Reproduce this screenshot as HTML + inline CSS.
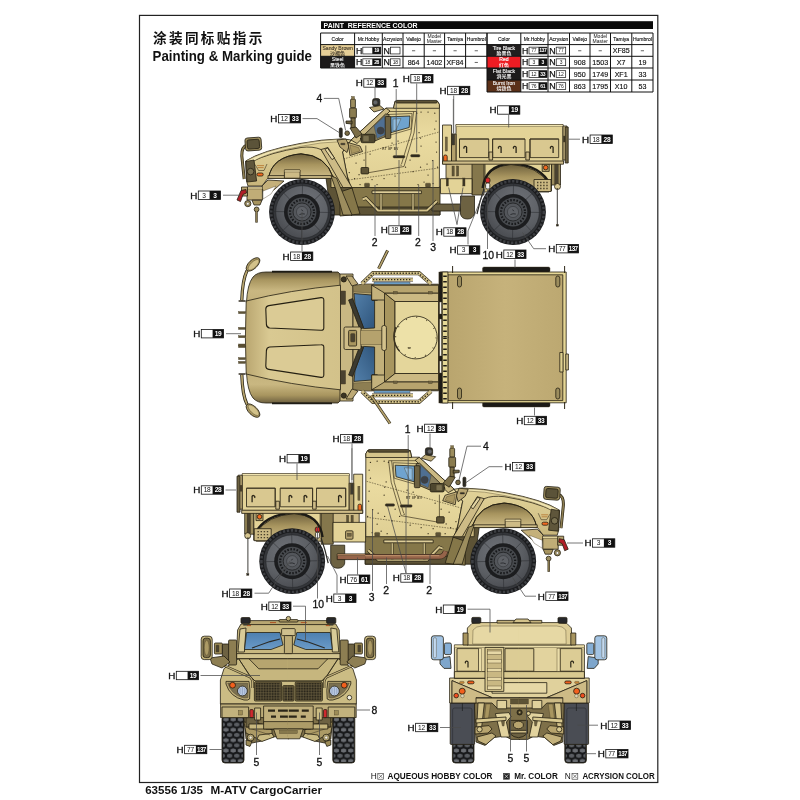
<!DOCTYPE html>
<html lang="zh">
<head>
<meta charset="utf-8">
<title>M-ATV CargoCarrier - Painting &amp; Marking guide</title>
<style>
html,body{margin:0;padding:0;background:#fff;}
body{width:800px;height:800px;overflow:hidden;font-family:"Liberation Sans", "Noto Sans CJK SC", sans-serif;}
svg{display:block;will-change:transform;font-family:"Liberation Sans", "Noto Sans CJK SC", sans-serif;}
.lh{font-size:9.8px;fill:#111;stroke:#111;stroke-width:0.35;}
.ln{font-size:6.6px;fill:#111;letter-spacing:-0.2px;}
.lb{font-size:6.6px;fill:#fff;font-weight:bold;letter-spacing:-0.2px;}
.lb3{font-size:6.3px;fill:#fff;font-weight:bold;letter-spacing:-0.6px;}
.nm{font-size:10.4px;fill:#111;stroke:#111;stroke-width:0.3;}
.ld{fill:none;stroke:#4a4a4a;stroke-width:0.75;}
.th{font-size:4.6px;fill:#222;}
.tv{font-size:6.6px;fill:#222;}
.tc{font-size:4.6px;fill:#f4f4f4;}
.o{stroke:#241f12;stroke-width:0.8;stroke-linejoin:round;}
.t{stroke:#4a3f26;stroke-width:0.4;}
</style>
</head>
<body>
<svg width="800" height="800" viewBox="0 0 800 800">
<rect width="800" height="800" fill="#fff"/>
<rect x="139.5" y="15.4" width="518.3" height="767.1" fill="none" stroke="#222" stroke-width="1.2"/>
<text x="153" y="43" font-size="13.6" fill="#111" letter-spacing="2.35" font-weight="bold">涂装同标贴指示</text>
<text x="152.6" y="60.8" font-size="14.5" fill="#111" font-weight="bold" textLength="159.4" lengthAdjust="spacingAndGlyphs">Painting &amp; Marking guide</text>
<rect x="321" y="21.2" width="332" height="7.8" fill="#0a0a0a"/><text x="323.6" y="27.6" font-size="7.2" font-weight="bold" fill="#fff" xml:space="preserve" textLength="94" lengthAdjust="spacingAndGlyphs">PAINT  REFERENCE COLOR</text><rect x="320.6" y="44.6" width="34.0" height="11.699999999999996" fill="#e6cf97"/><text x="337.60" y="49.60" font-size="5.1" fill="#4a4030" stroke="#4a4030" stroke-width="0.15" text-anchor="middle">Sandy Brown</text><text x="337.60" y="55.00" font-size="5" fill="#4a4030" font-weight="bold" text-anchor="middle">沙褐色</text><text x="355.90" y="53.55" font-size="8.8" fill="#111" stroke="#111" stroke-width="0.25">H</text><rect x="362.80" y="47.15" width="18.0" height="6.8" fill="#fff" stroke="#111" stroke-width="0.7"/><rect x="372.30" y="47.15" width="8.5" height="6.8" fill="#111"/><text x="376.55" y="52.45" font-size="5" fill="#fff" font-weight="bold" text-anchor="middle" letter-spacing="-0.4">19</text><text x="383.60" y="53.55" font-size="8.8" fill="#111" stroke="#111" stroke-width="0.25">N</text><rect x="390.50" y="47.15" width="9.5" height="6.8" fill="#fff" stroke="#111" stroke-width="0.7"/><path d="M412.00 50.75 h3.2" stroke="#222" stroke-width="0.7"/><path d="M432.80 50.75 h3.2" stroke="#222" stroke-width="0.7"/><path d="M453.50 50.75 h3.2" stroke="#222" stroke-width="0.7"/><path d="M474.70 50.75 h3.2" stroke="#222" stroke-width="0.7"/><rect x="320.6" y="56.3" width="34.0" height="11.700000000000003" fill="#1c1a1a"/><text x="337.60" y="61.30" font-size="5.1" fill="#eee" stroke="#eee" stroke-width="0.15" text-anchor="middle">Steel</text><text x="337.60" y="66.70" font-size="5" fill="#eee" font-weight="bold" text-anchor="middle">黑铁色</text><text x="355.90" y="65.25" font-size="8.8" fill="#111" stroke="#111" stroke-width="0.25">H</text><rect x="362.80" y="58.85" width="18.0" height="6.8" fill="#fff" stroke="#111" stroke-width="0.7"/><rect x="372.30" y="58.85" width="8.5" height="6.8" fill="#111"/><text x="367.55" y="64.15" font-size="5" fill="#222" text-anchor="middle" letter-spacing="-0.2">18</text><text x="376.55" y="64.15" font-size="5" fill="#fff" font-weight="bold" text-anchor="middle" letter-spacing="-0.4">28</text><text x="383.60" y="65.25" font-size="8.8" fill="#111" stroke="#111" stroke-width="0.25">N</text><rect x="390.50" y="58.85" width="9.5" height="6.8" fill="#fff" stroke="#111" stroke-width="0.7"/><text x="395.25" y="64.15" font-size="5" fill="#222" text-anchor="middle" letter-spacing="-0.2">18</text><text x="413.60" y="64.75" font-size="7.1" fill="#111" stroke="#111" stroke-width="0.15" text-anchor="middle">864</text><text x="434.40" y="64.75" font-size="7.1" fill="#111" stroke="#111" stroke-width="0.15" text-anchor="middle">1402</text><text x="455.10" y="64.75" font-size="7.1" fill="#111" stroke="#111" stroke-width="0.15" text-anchor="middle">XF84</text><path d="M474.70 62.45 h3.2" stroke="#222" stroke-width="0.7"/><path d="M320.6 33.0 H487 M320.6 44.6 H487 M320.6 56.3 H487 M320.6 68 H487 M320.6 33.0 V68 M354.6 33.0 V68 M382.3 33.0 V68 M403 33.0 V68 M424.2 33.0 V68 M444.6 33.0 V68 M465.6 33.0 V68 M487 33.0 V68 " stroke="#111" stroke-width="1" fill="none"/><text x="337.60" y="40.70" font-size="5" fill="#111" stroke="#111" stroke-width="0.12" text-anchor="middle">Color</text><text x="368.45" y="40.70" font-size="5" fill="#111" stroke="#111" stroke-width="0.12" text-anchor="middle">Mr.Hobby</text><text x="392.65" y="40.70" font-size="5" fill="#111" stroke="#111" stroke-width="0.12" text-anchor="middle">Acrysion</text><text x="413.60" y="40.70" font-size="5" fill="#111" stroke="#111" stroke-width="0.12" text-anchor="middle">Vallejo</text><text x="434.40" y="37.90" font-size="5" fill="#111" text-anchor="middle">Model</text><text x="434.40" y="42.80" font-size="5" fill="#111" text-anchor="middle">Master</text><text x="455.10" y="40.70" font-size="5" fill="#111" stroke="#111" stroke-width="0.12" text-anchor="middle">Tamiya</text><text x="476.30" y="40.70" font-size="5" fill="#111" stroke="#111" stroke-width="0.12" text-anchor="middle">Humbrol</text><rect x="487" y="44.6" width="33.799999999999955" height="11.699999999999996" fill="#221f1f"/><text x="503.90" y="49.60" font-size="5.1" fill="#eee" stroke="#eee" stroke-width="0.15" text-anchor="middle">Tire Black</text><text x="503.90" y="55.00" font-size="5" fill="#eee" font-weight="bold" text-anchor="middle">胎黑色</text><text x="522.10" y="53.55" font-size="8.8" fill="#111" stroke="#111" stroke-width="0.25">H</text><rect x="529.00" y="47.15" width="18.0" height="6.8" fill="#fff" stroke="#111" stroke-width="0.7"/><rect x="538.50" y="47.15" width="8.5" height="6.8" fill="#111"/><text x="533.75" y="52.45" font-size="5" fill="#222" text-anchor="middle" letter-spacing="-0.2">77</text><text x="542.75" y="52.45" font-size="5" fill="#fff" font-weight="bold" text-anchor="middle" letter-spacing="-0.4">137</text><text x="549.30" y="53.55" font-size="8.8" fill="#111" stroke="#111" stroke-width="0.25">N</text><rect x="556.20" y="47.15" width="9.5" height="6.8" fill="#fff" stroke="#111" stroke-width="0.7"/><text x="560.95" y="52.45" font-size="5" fill="#222" text-anchor="middle" letter-spacing="-0.2">77</text><path d="M578.15 50.75 h3.2" stroke="#222" stroke-width="0.7"/><path d="M598.65 50.75 h3.2" stroke="#222" stroke-width="0.7"/><text x="621.15" y="53.05" font-size="7.1" fill="#111" stroke="#111" stroke-width="0.15" text-anchor="middle">XF85</text><path d="M640.80 50.75 h3.2" stroke="#222" stroke-width="0.7"/><rect x="487" y="56.3" width="33.799999999999955" height="11.700000000000003" fill="#ee1c23"/><text x="503.90" y="61.30" font-size="5.1" fill="#fff" stroke="#fff" stroke-width="0.15" text-anchor="middle">Red</text><text x="503.90" y="66.70" font-size="5" fill="#fff" font-weight="bold" text-anchor="middle">红色</text><text x="522.10" y="65.25" font-size="8.8" fill="#111" stroke="#111" stroke-width="0.25">H</text><rect x="529.00" y="58.85" width="18.0" height="6.8" fill="#fff" stroke="#111" stroke-width="0.7"/><rect x="538.50" y="58.85" width="8.5" height="6.8" fill="#111"/><text x="533.75" y="64.15" font-size="5" fill="#222" text-anchor="middle" letter-spacing="-0.2">3</text><text x="542.75" y="64.15" font-size="5" fill="#fff" font-weight="bold" text-anchor="middle" letter-spacing="-0.4">3</text><text x="549.30" y="65.25" font-size="8.8" fill="#111" stroke="#111" stroke-width="0.25">N</text><rect x="556.20" y="58.85" width="9.5" height="6.8" fill="#fff" stroke="#111" stroke-width="0.7"/><text x="560.95" y="64.15" font-size="5" fill="#222" text-anchor="middle" letter-spacing="-0.2">3</text><text x="579.75" y="64.75" font-size="7.1" fill="#111" stroke="#111" stroke-width="0.15" text-anchor="middle">908</text><text x="600.25" y="64.75" font-size="7.1" fill="#111" stroke="#111" stroke-width="0.15" text-anchor="middle">1503</text><text x="621.15" y="64.75" font-size="7.1" fill="#111" stroke="#111" stroke-width="0.15" text-anchor="middle">X7</text><text x="642.40" y="64.75" font-size="7.1" fill="#111" stroke="#111" stroke-width="0.15" text-anchor="middle">19</text><rect x="487" y="68" width="33.799999999999955" height="12" fill="#1c1a1a"/><text x="503.90" y="73.00" font-size="5.1" fill="#eee" stroke="#eee" stroke-width="0.15" text-anchor="middle">Flat Black</text><text x="503.90" y="78.40" font-size="5" fill="#eee" font-weight="bold" text-anchor="middle">消光黑</text><text x="522.10" y="77.10" font-size="8.8" fill="#111" stroke="#111" stroke-width="0.25">H</text><rect x="529.00" y="70.70" width="18.0" height="6.8" fill="#fff" stroke="#111" stroke-width="0.7"/><rect x="538.50" y="70.70" width="8.5" height="6.8" fill="#111"/><text x="533.75" y="76.00" font-size="5" fill="#222" text-anchor="middle" letter-spacing="-0.2">12</text><text x="542.75" y="76.00" font-size="5" fill="#fff" font-weight="bold" text-anchor="middle" letter-spacing="-0.4">33</text><text x="549.30" y="77.10" font-size="8.8" fill="#111" stroke="#111" stroke-width="0.25">N</text><rect x="556.20" y="70.70" width="9.5" height="6.8" fill="#fff" stroke="#111" stroke-width="0.7"/><text x="560.95" y="76.00" font-size="5" fill="#222" text-anchor="middle" letter-spacing="-0.2">12</text><text x="579.75" y="76.60" font-size="7.1" fill="#111" stroke="#111" stroke-width="0.15" text-anchor="middle">950</text><text x="600.25" y="76.60" font-size="7.1" fill="#111" stroke="#111" stroke-width="0.15" text-anchor="middle">1749</text><text x="621.15" y="76.60" font-size="7.1" fill="#111" stroke="#111" stroke-width="0.15" text-anchor="middle">XF1</text><text x="642.40" y="76.60" font-size="7.1" fill="#111" stroke="#111" stroke-width="0.15" text-anchor="middle">33</text><rect x="487" y="80" width="33.799999999999955" height="12" fill="#5b3018"/><text x="503.90" y="85.00" font-size="5.1" fill="#eee" stroke="#eee" stroke-width="0.15" text-anchor="middle">Burnt Iron</text><text x="503.90" y="90.40" font-size="5" fill="#eee" font-weight="bold" text-anchor="middle">烧铁色</text><text x="522.10" y="89.10" font-size="8.8" fill="#111" stroke="#111" stroke-width="0.25">H</text><rect x="529.00" y="82.70" width="18.0" height="6.8" fill="#fff" stroke="#111" stroke-width="0.7"/><rect x="538.50" y="82.70" width="8.5" height="6.8" fill="#111"/><text x="533.75" y="88.00" font-size="5" fill="#222" text-anchor="middle" letter-spacing="-0.2">76</text><text x="542.75" y="88.00" font-size="5" fill="#fff" font-weight="bold" text-anchor="middle" letter-spacing="-0.4">61</text><text x="549.30" y="89.10" font-size="8.8" fill="#111" stroke="#111" stroke-width="0.25">N</text><rect x="556.20" y="82.70" width="9.5" height="6.8" fill="#fff" stroke="#111" stroke-width="0.7"/><text x="560.95" y="88.00" font-size="5" fill="#222" text-anchor="middle" letter-spacing="-0.2">76</text><text x="579.75" y="88.60" font-size="7.1" fill="#111" stroke="#111" stroke-width="0.15" text-anchor="middle">863</text><text x="600.25" y="88.60" font-size="7.1" fill="#111" stroke="#111" stroke-width="0.15" text-anchor="middle">1795</text><text x="621.15" y="88.60" font-size="7.1" fill="#111" stroke="#111" stroke-width="0.15" text-anchor="middle">X10</text><text x="642.40" y="88.60" font-size="7.1" fill="#111" stroke="#111" stroke-width="0.15" text-anchor="middle">53</text><path d="M487 33.0 H653 M487 44.6 H653 M487 56.3 H653 M487 68 H653 M487 80 H653 M487 92 H653 M487 33.0 V92 M520.8 33.0 V92 M548 33.0 V92 M569.5 33.0 V92 M590 33.0 V92 M610.5 33.0 V92 M631.8 33.0 V92 M653 33.0 V92 " stroke="#111" stroke-width="1" fill="none"/><text x="503.90" y="40.70" font-size="5" fill="#111" stroke="#111" stroke-width="0.12" text-anchor="middle">Color</text><text x="534.40" y="40.70" font-size="5" fill="#111" stroke="#111" stroke-width="0.12" text-anchor="middle">Mr.Hobby</text><text x="558.75" y="40.70" font-size="5" fill="#111" stroke="#111" stroke-width="0.12" text-anchor="middle">Acrysion</text><text x="579.75" y="40.70" font-size="5" fill="#111" stroke="#111" stroke-width="0.12" text-anchor="middle">Vallejo</text><text x="600.25" y="37.90" font-size="5" fill="#111" text-anchor="middle">Model</text><text x="600.25" y="42.80" font-size="5" fill="#111" text-anchor="middle">Master</text><text x="621.15" y="40.70" font-size="5" fill="#111" stroke="#111" stroke-width="0.12" text-anchor="middle">Tamiya</text><text x="642.40" y="40.70" font-size="5" fill="#111" stroke="#111" stroke-width="0.12" text-anchor="middle">Humbrol</text>
<g id="side1">
<defs><radialGradient id="tyrea" cx="0.62" cy="0.3" r="0.8"><stop offset="0" stop-color="#6d7076"/><stop offset="0.6" stop-color="#5b5e63"/><stop offset="1" stop-color="#46484d"/></radialGradient><linearGradient id="wella" x1="0" y1="0" x2="0" y2="1"><stop offset="0" stop-color="#6d5f3c"/><stop offset="0.45" stop-color="#a8955f"/><stop offset="1" stop-color="#cfbd88"/></linearGradient><linearGradient id="hooda" x1="0" y1="0" x2="0" y2="1"><stop offset="0" stop-color="#e2d399"/><stop offset="0.5" stop-color="#d8c88e"/><stop offset="1" stop-color="#c6b37a"/></linearGradient><linearGradient id="caba" x1="0" y1="0" x2="0" y2="1"><stop offset="0" stop-color="#dccb90"/><stop offset="0.4" stop-color="#eadba0"/><stop offset="1" stop-color="#dfcf94"/></linearGradient></defs>
<rect x="351" y="187" width="89" height="28" rx="0" fill="#857749" class="o" /><rect x="351" y="207" width="89" height="8" rx="0" fill="#5d5336" class="o" /><rect x="432" y="204" width="30" height="7" rx="0" fill="#6a5f40" class="o" /><path d="M460.5 196 h14 v18 q-2 5 -7 5 q-6 0 -7 -5 Z" fill="#6d6242" class="o" /><path d="M326 178 L352 178 L352 215 L331 215 Z" fill="#5d5336" class="o" /><path d="M340 192 L352 188 L360 214 L340 216 Z" fill="#857749" class="o" /><rect x="446" y="161" width="40" height="19" rx="0" fill="#cdbb86" class="o" /><rect x="452" y="166" width="2.2" height="10" rx="0" fill="#5d5336" class="t" /><rect x="456.5" y="166" width="2.2" height="10" rx="0" fill="#5d5336" class="t" /><rect x="472" y="161" width="12" height="34" rx="0" fill="#85774c" class="o" /><rect x="440.5" y="178.7" width="31.5" height="15" rx="0" fill="#e3d397" class="o" /><rect x="446.2" y="178" width="2.2" height="8" rx="0" fill="#3b3524" class="t" /><rect x="462.8" y="178" width="2.2" height="8" rx="0" fill="#3b3524" class="t" /><path d="M485 161 L551.5 161 L551.5 191 L534 191 L534 180 L485 180 Z" fill="#e3d397" class="o" /><path d="M484 184 Q488 166 511 164.5 Q538 166 549 184 L549 192 L484 192 Z" fill="url(#wella)" class="o" /><path d="M482.6 188 Q485.6 165.2 511 163.4 Q541.5 165 551 186" fill="none" stroke="#1c1a15" stroke-width="2.3" /><rect x="534" y="179.5" width="17" height="12" rx="0" fill="#cbb983" class="o" /><path d="M537 182.5 h12 M537 185.5 h12 M537 188.5 h12" stroke="#4a412b" stroke-width="1.3" stroke-dasharray="1.4 1.7" fill="none"/><rect x="551.5" y="161" width="9" height="24" rx="0" fill="#9c8d5e" class="o" /><rect x="554.6" y="160" width="3.6" height="24" rx="0" fill="#4a4230" class="t" /><circle cx="557.5" cy="186.5" r="3" fill="#d7c690" class="o"/><path d="M557.3 188 V226" fill="none" stroke="#2b2a26" stroke-width="0.9" /><rect x="556.3" y="224.5" width="2.2" height="1.6" rx="0" fill="#222" class="t" /><rect x="542.2" y="164" width="7" height="7.4" rx="0" fill="#bba972" class="o" /><circle cx="545.7" cy="167.6" r="2.3" fill="#f26a21" class="o"/><rect x="456" y="124.6" width="107" height="37" rx="0" fill="#e3d397" class="o" /><rect x="456" y="124.6" width="107" height="2" rx="0" fill="#f0e4b0" class="t" /><rect x="442.5" y="125" width="9" height="39" rx="0" fill="#e3d397" class="o" /><rect x="451.5" y="134" width="4.5" height="28" rx="0" fill="#b3a06b" class="o" /><rect x="445.3" y="137" width="2" height="14" rx="0" fill="#6f6342" class="t" /><rect x="443.6" y="155" width="3.6" height="7" rx="1.5" fill="#f26a21" class="o" /><rect x="442.5" y="161" width="121" height="3.2" rx="0" fill="#cfbd88" class="o" /><rect x="459.5" y="139" width="29.2" height="18.6" rx="0" fill="#d9c890" class="o" /><path d="M459.5 157.6 V139 H488.7" fill="none" stroke="#3a3220" stroke-width="0.9" /><rect x="492.6" y="139" width="32.4" height="18.6" rx="0" fill="#d9c890" class="o" /><path d="M492.6 157.6 V139 H525" fill="none" stroke="#3a3220" stroke-width="0.9" /><rect x="530" y="139" width="28.7" height="18.6" rx="0" fill="#d9c890" class="o" /><path d="M530 157.6 V139 H558.7" fill="none" stroke="#3a3220" stroke-width="0.9" /><path d="M464.2 148.6 a1.4 1.4 0 1 1 2.4 -0.4 v4.8" stroke="#2b2618" stroke-width="1.3" fill="none"/><path d="M498.7 148.6 a1.4 1.4 0 1 1 2.4 -0.4 v4.8" stroke="#2b2618" stroke-width="1.3" fill="none"/><path d="M513.7 148.6 a1.4 1.4 0 1 1 2.4 -0.4 v4.8" stroke="#2b2618" stroke-width="1.3" fill="none"/><path d="M550.7 148.6 a1.4 1.4 0 1 1 2.4 -0.4 v4.8" stroke="#2b2618" stroke-width="1.3" fill="none"/><rect x="489" y="152" width="3.6" height="8" rx="0" fill="#cdbb86" class="o" /><rect x="525.8" y="152" width="3.6" height="8" rx="0" fill="#cdbb86" class="o" /><rect x="563" y="126" width="4" height="34" rx="0" fill="#cbb983" class="o" /><rect x="565.2" y="127" width="3" height="36" rx="0" fill="#6d6242" class="o" /><rect x="563.3" y="136" width="1.8" height="6" rx="0" fill="#3b3524" class="t" /><path d="M453.3 99 V134" fill="none" stroke="#8b8b86" stroke-width="0.9" /><rect x="452" y="134" width="2.8" height="11" rx="0" fill="#3d3a30" class="t" /><rect x="485.4" y="177.8" width="4.6" height="5.2" rx="2" fill="#d8262c" class="o" /><rect x="485.6" y="183" width="4.2" height="6" rx="1.5" fill="#efefef" class="o" /><path d="M484 189 Q480 200 477 214" fill="none" stroke="#2b2a26" stroke-width="1.2" /><path d="M342.5 152 L351 140 L386 108 L393.5 108 L395 101.3 L437.5 101.3 L439.4 104.5 L439.4 187.5 L351 187.5 L347 175 Z" fill="url(#caba)" class="o" /><path d="M395 101.3 L437.5 101.3 L439.4 104.5 L439.4 108.3 L393.5 108.3 Z" fill="#d6c58b" class="o" /><rect x="396" y="100.4" width="41" height="2.6" rx="0.8" fill="#5d5336" class="o" /><path d="M387 111.5 H416.6 L414 133 L404 166.5 L365.8 173.2 V145.5 M413.6 111.5 L411 133 L401.5 164" fill="none" stroke="#3f3520" stroke-width="0.7" /><path d="M343.5 159 L439 132 M348.5 180 L439 168" fill="none" stroke="#4a3f26" stroke-width="0.6" stroke-dasharray="1.6 1.1"/><path d="M390 116.8 L410 116 L409.2 127.5 L391 132.6 Z" fill="#6fa3cf" class="o" /><path d="M393 119 L401 118.6 L396 130 L393 131 Z" fill="#8fbce0" class="t" /><path d="M388 114.5 L412 113.5 L411 129 L388.5 135.5 Z" fill="none" stroke="#4a4028" stroke-width="0.7" /><path d="M351 140 L386 108 L390 111 L357 143.5 Z" fill="#cbb983" class="o" /><path d="M360 139 L385.5 114 L389 114.5 L389 135 L376 140.5 Z" fill="#8d8360" class="o" /><path d="M374 126 L385 115.5 L387 134 L377 138.6 Z" fill="#4f6f92" class="t" /><circle cx="380.6" cy="130.6" r="3.6" fill="#3b4048" class="t"/><rect x="361" y="134.3" width="14" height="8.4" rx="1.5" fill="#4e472f" class="o" /><rect x="363" y="135.6" width="6" height="5.8" rx="1" fill="#7b7150" class="t" /><rect x="385.2" y="116.5" width="5.6" height="22" rx="1" fill="#6d6242" class="o" /><rect x="361" y="167.5" width="7.6" height="6.4" rx="0.8" fill="#5d5336" class="o" /><rect x="364.5" y="183.2" width="5" height="3.8" rx="0.8" fill="#5d5336" class="t" /><rect x="425.5" y="183.2" width="5" height="3.8" rx="0.8" fill="#5d5336" class="t" /><rect x="393" y="155.6" width="12" height="2.4" rx="1.2" fill="#2e2a1f" class="t" /><rect x="410.6" y="154.6" width="9.4" height="2.4" rx="1.2" fill="#2e2a1f" class="t" /><text x="382.3" y="149.6" font-size="3.1" font-weight="bold" fill="#4a4028" letter-spacing="0.3">RT 8P BV</text><path d="M416.7 113.2 h0.1 M434.7 113.2 h0.1 M434.7 129 h0.1 M419 132.7 h0.1 M420.5 138 h0.1 M432.5 160.5 h0.1 M420.5 167.2 h0.1 M437.5 167.2 h0.1 M413 171.7 h0.1 M405.5 167.2 h0.1 M401 165 h0.1 M337.2 160.5 h0.1 M338.8 166.5 h0.1 M341.7 156 h0.1 M349.2 172.5 h0.1 M354.5 178.5 h0.1 M359 174.7 h0.1 M345 170 h0.1 M342.5 176 h0.1 M347 182 h0.1 M436 121 h0.1 M436 142 h0.1 M436.5 152 h0.1 M428 175 h0.1 M424 182 h0.1 M395 176 h0.1 M384 178.5 h0.1 M372 179.5 h0.1 M410 160 h0.1 M398 141 h0.1 M392 143 h0.1 M364 160 h0.1 M356 163 h0.1 M370 154 h0.1 M421 112 h0.1 M428 112 h0.1 M421 146 h0.1 M427 164 h0.1 M433 183.5 h0.1 M360 184.5 h0.1 M377 184.5 h0.1 M418 184.5 h0.1" stroke="#3f3520" stroke-width="1.25" stroke-linecap="round" fill="none"/><rect x="372" y="190.8" width="49.4" height="2.8" rx="0" fill="#ddcd98" class="o" /><path d="M362.5 199.5 L366 198 L378 210.5 H427 L437 201" fill="none" stroke="#2e2818" stroke-width="3.4" /><path d="M362.5 199.5 L366 198 L378 210.5 H427 L437 201" fill="none" stroke="#d3c28a" stroke-width="2" /><path d="M381 194 V210 M413 194 V210" fill="none" stroke="#2e2818" stroke-width="2.6" /><path d="M381 194 V210 M413 194 V210" fill="none" stroke="#d3c28a" stroke-width="1.4" /><path d="M245.6 161 Q262 150.5 300 143.5 Q322 139.2 343 138.8 L351 140 L342.5 152 L349.5 187.5 L331 187.5 L331 178 L268 178 L262 186 L248 186 L246.5 181 Z" fill="url(#hooda)" class="o" /><path d="M251 162 Q270 152.5 301 147.5 Q313 146 321 149.5 L333 166" fill="none" stroke="#2e2818" stroke-width="0.8" /><path d="M246 161.2 Q262 151 300 144 Q322 139.6 343 139.2 L343 141.5 Q320 142 300 146.4 Q265 153 250.5 163 Z" fill="#f0e4b0" class="t" /><path d="M268.6 178 Q272 156.4 301 153.8 Q326 155 333.5 178 Z" fill="url(#wella)" class="o" /><path d="M268.6 178 Q272 156.4 301 153.8 Q326 155 333.5 178" fill="none" stroke="#241f12" stroke-width="0.9" /><rect x="268" y="175.6" width="65" height="2.8" rx="0" fill="#cdbb86" class="o" /><path d="M321 149.5 L328 147.5 L352 187.5 L343 187.5 Z" fill="#cdbb86" class="o" /><path d="M331 176 L336.5 178 L352 215 L343 215 L336 190 Z" fill="#9c8d5e" class="o" /><path d="M325 149.4 L327.5 148 L334.5 158 L332 159.6 Z" fill="#e2d4a2" class="o" /><rect x="284.4" y="170" width="15.6" height="8.2" rx="0" fill="#cdbb86" class="o" /><rect x="284.4" y="170" width="15.6" height="2" rx="0" fill="#e0d19e" class="t" /><path d="M245.8 161.5 L254 160 L256.6 181 L247 182 Z" fill="#5f563b" class="o" /><circle cx="250.6" cy="171.6" r="3.3" fill="#7b7252" class="o"/><path d="M255 164.5 L258.5 170.5 H264 L267 164" fill="none" stroke="#3a3220" stroke-width="0.6" /><path d="M257 165.6 h7 M257.6 167.6 h6" fill="none" stroke="#b0681f" stroke-width="0.7" /><rect x="257" y="173" width="6.2" height="3" rx="1.4" fill="#f26a21" class="o" /><path d="M262 186 L268 180 L284 181 L275 189 L264 197 Z" fill="#c4b07a" class="o" /><path d="M263 191 L276 186 L271 194 L263 199 Z" fill="#fff" class="t" /><rect x="247" y="187" width="15.4" height="13" rx="0" fill="#c0ad77" class="o" /><rect x="247" y="187" width="15.4" height="2" rx="0" fill="#e0d19c" class="t" /><rect x="241.5" y="187" width="6" height="9" rx="0" fill="#b9a672" class="o" /><path d="M237 200 L241 190.5 L246 189.5 L246.5 193 L243 194.5 L240.5 201.5 Z" fill="#b01e28" class="o" /><circle cx="247.8" cy="203.6" r="3.1" fill="#9c8d5e" class="o"/><circle cx="247.8" cy="203.8" r="1.3" fill="#fff" class="t"/><path d="M252 200.2 L262 200.2 L260 205 L254 205 Z" fill="#a8955f" class="o" /><circle cx="256.6" cy="209.4" r="2.4" fill="#9c8d5e" class="o"/><path d="M256.5 211 V222.6" fill="none" stroke="#3a3220" stroke-width="2.4" /><path d="M256.5 211 V222" fill="none" stroke="#8d7e52" stroke-width="1.2" /><path d="M247 145 Q241.4 147 241.8 156 L244.2 179" fill="none" stroke="#2e2818" stroke-width="3" /><path d="M247 145 Q241.4 147 241.8 156 L244.2 179" fill="none" stroke="#8d7e52" stroke-width="1.6" /><rect x="245.2" y="137.6" width="16.2" height="13" rx="2.4" fill="#9c8d5e" class="o" transform="rotate(-4 253 144)"/><rect x="247.2" y="139.6" width="12.2" height="9.2" rx="1.8" fill="#5b5339" class="o" transform="rotate(-4 253 144)"/><rect x="350.6" y="99" width="4.8" height="9" rx="1" fill="#9c8d5e" class="o" /><rect x="351.6" y="96.5" width="2.8" height="3" rx="0" fill="#85774c" class="t" /><rect x="349.6" y="108" width="6.8" height="10" rx="1" fill="#8a7c50" class="o" /><rect x="351" y="118" width="4.2" height="10" rx="0" fill="#7b6d47" class="o" /><path d="M346 121 L352 121 L352 124 L346 123.4 Z" fill="#6d6242" class="o" /><path d="M350 128 L356 127 L362 134 L356 138 Z" fill="#7b6d47" class="o" /><rect x="372.6" y="98.6" width="7.2" height="7.6" rx="2" fill="#2e2f30" class="o" /><circle cx="375.4" cy="102.4" r="2.2" fill="#63666b" class="t"/><path d="M369.5 107.5 L380 105.6 L384 109 L374 112 Z" fill="#bca975" class="o" /><rect x="339.4" y="128" width="2.8" height="9.4" rx="1" fill="#2b2a26" class="o" /><circle cx="347.2" cy="133.2" r="2.3" fill="#7b6d47" class="o"/><path d="M337 140 L346 139 L349 146 L347 152.5 L340 147 Z" fill="#b9a672" class="o" /><rect x="340.6" y="143.2" width="4.6" height="1.6" rx="0.8" fill="#2b2a26" class="t" /><path d="M348 142.5 L360 146 L362.5 151.5 L350 155.5 Z" fill="#c4b07a" class="o" /><path d="M350 145 L358.5 147.5 L360 151 L351.5 153.6 Z" fill="#a8955f" class="t" />
<g transform="translate(302 212)"><circle r="32.9" fill="#1b1c1e"/><circle r="30.799999999999997" fill="none" stroke="#3d3f43" stroke-width="2.6" stroke-dasharray="2.3 1.7"/><circle r="28.599999999999998" fill="#34363a"/><circle r="26.299999999999997" fill="url(#tyrea)" stroke="#232426" stroke-width="0.5"/><path d="M17.0 0.3 L28.4 0.5 M11.8 12.2 L19.7 20.4 M-0.3 17.0 L-0.5 28.4 M-12.2 11.8 L-20.4 19.7 M-17.0 -0.3 L-28.4 -0.5 M-11.8 -12.2 L-19.7 -20.4 M0.3 -17.0 L0.5 -28.4 M12.2 -11.8 L20.4 -19.7 " stroke="#2b2c2f" stroke-width="0.55" fill="none"/><circle r="18" fill="#1c1d1f"/><circle r="14.4" fill="#474a4e"/><circle r="12" fill="none" stroke="#17181a" stroke-width="2.2" stroke-dasharray="1.5 1.64"/><circle r="9" fill="#53565b" stroke="#1e1f21" stroke-width="0.8"/><circle r="5.6" fill="#5e6166" stroke="#2d2e31" stroke-width="0.5"/><path d="M-2.6 2.6 q2.6 -1.4 5.4 -0.6 M-0.4 -2.4 l1.2 1.6" stroke="#26272a" stroke-width="0.9" fill="none"/></g>
<g transform="translate(513 212)"><circle r="32.9" fill="#1b1c1e"/><circle r="30.799999999999997" fill="none" stroke="#3d3f43" stroke-width="2.6" stroke-dasharray="2.3 1.7"/><circle r="28.599999999999998" fill="#34363a"/><circle r="26.299999999999997" fill="url(#tyrea)" stroke="#232426" stroke-width="0.5"/><path d="M17.0 0.3 L28.4 0.5 M11.8 12.2 L19.7 20.4 M-0.3 17.0 L-0.5 28.4 M-12.2 11.8 L-20.4 19.7 M-17.0 -0.3 L-28.4 -0.5 M-11.8 -12.2 L-19.7 -20.4 M0.3 -17.0 L0.5 -28.4 M12.2 -11.8 L20.4 -19.7 " stroke="#2b2c2f" stroke-width="0.55" fill="none"/><circle r="18" fill="#1c1d1f"/><circle r="14.4" fill="#474a4e"/><circle r="12" fill="none" stroke="#17181a" stroke-width="2.2" stroke-dasharray="1.5 1.64"/><circle r="9" fill="#53565b" stroke="#1e1f21" stroke-width="0.8"/><circle r="5.6" fill="#5e6166" stroke="#2d2e31" stroke-width="0.5"/><path d="M-2.6 2.6 q2.6 -1.4 5.4 -0.6 M-0.4 -2.4 l1.2 1.6" stroke="#26272a" stroke-width="0.9" fill="none"/></g>
</g>
<g id="topview">
<defs><linearGradient id="tfen" x1="0" y1="0" x2="0" y2="1"><stop offset="0" stop-color="#6d6040"/><stop offset="0.25" stop-color="#a8955f"/><stop offset="0.6" stop-color="#c9b781"/><stop offset="1" stop-color="#c4b27c"/></linearGradient><linearGradient id="tglass" x1="0" y1="0" x2="1" y2="1"><stop offset="0" stop-color="#5380aa"/><stop offset="1" stop-color="#2f557c"/></linearGradient><linearGradient id="thood" x1="0" y1="0" x2="1" y2="0"><stop offset="0" stop-color="#b9a670"/><stop offset="0.25" stop-color="#d9c992"/><stop offset="1" stop-color="#d3c28a"/></linearGradient><linearGradient id="tbed" x1="0" y1="0" x2="1" y2="0"><stop offset="0" stop-color="#b9a56e"/><stop offset="0.5" stop-color="#c6b27b"/><stop offset="1" stop-color="#bca871"/></linearGradient></defs>
<rect x="482.5" y="267" width="67.5" height="5.2" rx="1.5" fill="#1b1a17" class="t" />
<rect x="482.5" y="402" width="67.5" height="5" rx="1.5" fill="#1b1a17" class="t" />
<rect x="440.3" y="272" width="125.9" height="130.8" rx="0" fill="#e6d796" class="o" />
<rect x="447.8" y="274.8" width="115" height="125.8" rx="0" fill="url(#tbed)" class="o" />
<rect x="559.8" y="352.5" width="3.2" height="19.5" rx="0" fill="#e0d190" class="o" />
<rect x="565.8" y="354" width="2.6" height="16" rx="0" fill="#d3c28a" class="o" />
<rect x="457.5" y="276" width="4" height="11" rx="2" fill="#9c8d5e" class="o" />
<rect x="457.5" y="388" width="4" height="11" rx="2" fill="#9c8d5e" class="o" />
<rect x="555.8" y="276" width="4" height="11" rx="2" fill="#9c8d5e" class="o" />
<rect x="555.8" y="388" width="4" height="11" rx="2" fill="#9c8d5e" class="o" />
<path d="M452.6 266 V273 M564.6 266 V273 M452.6 402 V409 M564.6 402 V409" fill="none" stroke="#2e2818" stroke-width="1" />
<clipPath id="tclip"><rect x="200" y="240" width="400" height="98"/></clipPath>
<g clip-path="url(#tclip)"><path d="M246.4 303 Q247.4 284 253 277 Q257.4 272 266 272 L338 272 L341 275 L341 292 L246.4 303 Z" fill="url(#tfen)" class="o" /><path d="M272 271.6 H332" fill="none" stroke="#1e1c16" stroke-width="1.6" /><rect x="340" y="274" width="13" height="66" rx="0" fill="#c9b883" class="o" /><rect x="340.2" y="291" width="5.4" height="13.5" rx="0" fill="#4a4230" class="t" /><circle cx="343.8" cy="279.4" r="2.6" fill="#3b3524" class="o"/><path d="M346 276 L352 276 L358 284 L352 286 Z" fill="#bca975" class="o" /><path d="M247 270.6 Q242.4 280 241.8 300.4" fill="none" stroke="#241f12" stroke-width="3.2" /><path d="M247 270.6 Q242.4 280 241.8 300.4" fill="none" stroke="#b7a46e" stroke-width="1.7" /><ellipse cx="253" cy="264.4" rx="8.6" ry="4.3" fill="#a8965f" class="o" transform="rotate(-44 253 264.4)"/><ellipse cx="253.6" cy="264.8" rx="7" ry="2.9" fill="#d3c28a" class="t" transform="rotate(-44 253.6 264.8)"/><path d="M238.6 301 h7" fill="none" stroke="#241f12" stroke-width="1.4" /><rect x="238.5" y="311.6" width="7" height="2" rx="0" fill="#5d5336" class="t" /><rect x="238.5" y="327.4" width="7" height="2" rx="0" fill="#5d5336" class="t" /><path d="M353 286 L362 284.2 L438.5 284.2 L438.5 340 L353 340 Z" fill="#c2b07a" class="o" /><path d="M353 286 L362 284.2 L372 284.2 L372 293 L353.7 292 Z" fill="#8d7e52" class="t" /><path d="M354 293.6 L371.7 295 L371.7 300 L374.6 300 L374.6 328 L363.4 328.6 L355 304.5 Z" fill="url(#tglass)" class="o" /><path d="M348.6 300 L352.6 298.6 L363.6 327.6 L360 329.4 Z" fill="#3b3a30" class="o" /><rect x="371.6" y="291.6" width="6.4" height="8.6" rx="1" fill="#4d5660" class="o" /><path d="M371.7 285.2 L438.5 285.2 L438.5 340 L384.5 340 L384.5 300 L371.7 300 Z" fill="#c4b27c" class="o" /><path d="M384.5 293 L395 301.5 L395 340 L384.5 340 Z" fill="#a8965f" class="o" /><path d="M384.5 293 L438.5 293 L438.5 301.5 L395 301.5 Z" fill="#cbb983" class="o" /><path d="M371.7 285.2 L438.5 285.2 L438.5 293 L384.5 293 L378 289 Z" fill="#b7a46e" class="o" /><rect x="395" y="301.5" width="43.5" height="38.5" rx="0" fill="#e4d69b" class="o" /><rect x="393.6" y="291.4" width="3.6" height="2.6" rx="0" fill="#6d6242" class="t" /><rect x="428.6" y="291.4" width="3.6" height="2.6" rx="0" fill="#6d6242" class="t" /><rect x="374" y="282" width="36" height="2.4" rx="0" fill="#6c9dc6" class="t" /><path d="M362 283.8 L373 273.2 H419 L431 283.8" fill="none" stroke="#3a3220" stroke-width="4.2" /><path d="M362 283.8 L373 273.2 H419 L431 283.8" fill="none" stroke="#d3c28a" stroke-width="3" /><path d="M364 282 L373.6 273.2 H418.4 L429 282" fill="none" stroke="#2e2818" stroke-width="1.5" stroke-dasharray="1.3 1.7"/><path d="M372 279.6 H413" fill="none" stroke="#3a3220" stroke-width="3.8" /><path d="M372 279.6 H413" fill="none" stroke="#d3c28a" stroke-width="2.6" /><path d="M373 279.6 H412" fill="none" stroke="#2e2818" stroke-width="1.3" stroke-dasharray="1.3 1.7"/><rect x="438.9" y="272" width="3.4" height="68" rx="0" fill="#1d1b16" class="t" /><rect x="439.6" y="302" width="2" height="12" rx="0" fill="#f4f2ea" class="t" /><rect x="439.6" y="319" width="2" height="21" rx="0" fill="#f4f2ea" class="t" /><rect x="442.3" y="272" width="5.6" height="68" rx="0" fill="#e6d896" class="o" /><path d="M445 275.4 V340" fill="none" stroke="#1d1b16" stroke-width="3.6" stroke-dasharray="1.5 4"/></g>
<g transform="translate(0 675.0) scale(1 -1)"><g clip-path="url(#tclip)"><path d="M246.4 303 Q247.4 284 253 277 Q257.4 272 266 272 L338 272 L341 275 L341 292 L246.4 303 Z" fill="url(#tfen)" class="o" /><path d="M272 271.6 H332" fill="none" stroke="#1e1c16" stroke-width="1.6" /><rect x="340" y="274" width="13" height="66" rx="0" fill="#c9b883" class="o" /><rect x="340.2" y="291" width="5.4" height="13.5" rx="0" fill="#4a4230" class="t" /><circle cx="343.8" cy="279.4" r="2.6" fill="#3b3524" class="o"/><path d="M346 276 L352 276 L358 284 L352 286 Z" fill="#bca975" class="o" /><path d="M247 270.6 Q242.4 280 241.8 300.4" fill="none" stroke="#241f12" stroke-width="3.2" /><path d="M247 270.6 Q242.4 280 241.8 300.4" fill="none" stroke="#b7a46e" stroke-width="1.7" /><ellipse cx="253" cy="264.4" rx="8.6" ry="4.3" fill="#a8965f" class="o" transform="rotate(-44 253 264.4)"/><ellipse cx="253.6" cy="264.8" rx="7" ry="2.9" fill="#d3c28a" class="t" transform="rotate(-44 253.6 264.8)"/><path d="M238.6 301 h7" fill="none" stroke="#241f12" stroke-width="1.4" /><rect x="238.5" y="311.6" width="7" height="2" rx="0" fill="#5d5336" class="t" /><rect x="238.5" y="327.4" width="7" height="2" rx="0" fill="#5d5336" class="t" /><path d="M353 286 L362 284.2 L438.5 284.2 L438.5 340 L353 340 Z" fill="#c2b07a" class="o" /><path d="M353 286 L362 284.2 L372 284.2 L372 293 L353.7 292 Z" fill="#8d7e52" class="t" /><path d="M354 293.6 L371.7 295 L371.7 300 L374.6 300 L374.6 328 L363.4 328.6 L355 304.5 Z" fill="url(#tglass)" class="o" /><path d="M348.6 300 L352.6 298.6 L363.6 327.6 L360 329.4 Z" fill="#3b3a30" class="o" /><rect x="371.6" y="291.6" width="6.4" height="8.6" rx="1" fill="#4d5660" class="o" /><path d="M371.7 285.2 L438.5 285.2 L438.5 340 L384.5 340 L384.5 300 L371.7 300 Z" fill="#c4b27c" class="o" /><path d="M384.5 293 L395 301.5 L395 340 L384.5 340 Z" fill="#a8965f" class="o" /><path d="M384.5 293 L438.5 293 L438.5 301.5 L395 301.5 Z" fill="#cbb983" class="o" /><path d="M371.7 285.2 L438.5 285.2 L438.5 293 L384.5 293 L378 289 Z" fill="#b7a46e" class="o" /><rect x="395" y="301.5" width="43.5" height="38.5" rx="0" fill="#e4d69b" class="o" /><rect x="393.6" y="291.4" width="3.6" height="2.6" rx="0" fill="#6d6242" class="t" /><rect x="428.6" y="291.4" width="3.6" height="2.6" rx="0" fill="#6d6242" class="t" /><rect x="374" y="282" width="36" height="2.4" rx="0" fill="#6c9dc6" class="t" /><path d="M362 283.8 L373 273.2 H419 L431 283.8" fill="none" stroke="#3a3220" stroke-width="4.2" /><path d="M362 283.8 L373 273.2 H419 L431 283.8" fill="none" stroke="#d3c28a" stroke-width="3" /><path d="M364 282 L373.6 273.2 H418.4 L429 282" fill="none" stroke="#2e2818" stroke-width="1.5" stroke-dasharray="1.3 1.7"/><path d="M372 279.6 H413" fill="none" stroke="#3a3220" stroke-width="3.8" /><path d="M372 279.6 H413" fill="none" stroke="#d3c28a" stroke-width="2.6" /><path d="M373 279.6 H412" fill="none" stroke="#2e2818" stroke-width="1.3" stroke-dasharray="1.3 1.7"/><rect x="438.9" y="272" width="3.4" height="68" rx="0" fill="#1d1b16" class="t" /><rect x="439.6" y="302" width="2" height="12" rx="0" fill="#f4f2ea" class="t" /><rect x="439.6" y="319" width="2" height="21" rx="0" fill="#f4f2ea" class="t" /><rect x="442.3" y="272" width="5.6" height="68" rx="0" fill="#e6d896" class="o" /><path d="M445 275.4 V340" fill="none" stroke="#1d1b16" stroke-width="3.6" stroke-dasharray="1.5 4"/></g></g>
<path d="M246.2 301 Q290 290 340.5 285.2 L340.5 389.8 Q290 385 246.2 374 Q244.6 337.5 246.2 301 Z" fill="url(#thood)" class="o" />
<path d="M268.8 369.4 L321 377.4 Q323.8 377.6 323.8 375.0 L323.8 347.0 Q323.8 344.6 321 344.8 L269.6 347.0 Q266.6 347.4 266.4 350.6 L265.8 366.0 Q265.8 369.0 268.8 369.4 Z" fill="#dbcb95" class="o" style="stroke-width:1.1"/>
<path d="M268.8 305.6 L321 297.6 Q323.8 297.4 323.8 300.0 L323.8 328.0 Q323.8 330.4 321 330.2 L269.6 328.0 Q266.6 327.6 266.4 324.4 L265.8 309.0 Q265.8 306.0 268.8 305.6 Z" fill="#dbcb95" class="o" style="stroke-width:1.1"/>
<rect x="238.5" y="335.7" width="7" height="2" rx="0" fill="#5d5336" class="t" />
<rect x="238.5" y="344" width="7" height="2" rx="0" fill="#5d5336" class="t" />
<rect x="238.5" y="357.6" width="7" height="2" rx="0" fill="#5d5336" class="t" />
<rect x="344" y="327" width="17" height="22.5" rx="1.5" fill="#cdbb86" class="o" />
<rect x="348.6" y="330.4" width="8" height="15.6" rx="1" fill="#a8955f" class="o" />
<rect x="350.6" y="333.6" width="4.4" height="8.4" rx="1" fill="#4a4230" class="t" />
<path d="M360.5 330.5 L384.5 330.5 L384.5 344.5 L360.5 344.5 Z" fill="#b5a26d" class="t" />
<rect x="381.8" y="325.5" width="4.6" height="25" rx="2" fill="#d3c28c" class="o" />
<circle cx="415.8" cy="337.5" r="21.4" fill="#ede1a8" class="o"/>
<path d="M399.5 351 A21.4 21.4 0 0 1 396 327" fill="none" stroke="#3a3220" stroke-width="1.3"/>
<circle cx="415.8" cy="337.5" r="20.2" fill="none" stroke="#4a3f26" stroke-width="1.2" stroke-dasharray="0.9 9.67"/>
<rect x="408" y="347.6" width="2.6" height="0.8" rx="0" fill="#3a3220" class="t" />
<path d="M378.6 268.6 L387.6 250.5" fill="none" stroke="#2e2818" stroke-width="3" />
<path d="M378.6 268.6 L387.6 250.5" fill="none" stroke="#b7a46e" stroke-width="1.6" />
<path d="M371 395.5 L390 423.5" fill="none" stroke="#2e2818" stroke-width="3" />
<path d="M371 395.5 L390 423.5" fill="none" stroke="#b7a46e" stroke-width="1.6" />
</g>
<g id="side2" transform="translate(805.2 349.2) scale(-1 1)">
<defs><radialGradient id="tyreb" cx="0.62" cy="0.3" r="0.8"><stop offset="0" stop-color="#6d7076"/><stop offset="0.6" stop-color="#5b5e63"/><stop offset="1" stop-color="#46484d"/></radialGradient><linearGradient id="wellb" x1="0" y1="0" x2="0" y2="1"><stop offset="0" stop-color="#6d5f3c"/><stop offset="0.45" stop-color="#a8955f"/><stop offset="1" stop-color="#cfbd88"/></linearGradient><linearGradient id="hoodb" x1="0" y1="0" x2="0" y2="1"><stop offset="0" stop-color="#e2d399"/><stop offset="0.5" stop-color="#d8c88e"/><stop offset="1" stop-color="#c6b37a"/></linearGradient><linearGradient id="cabb" x1="0" y1="0" x2="0" y2="1"><stop offset="0" stop-color="#dccb90"/><stop offset="0.4" stop-color="#eadba0"/><stop offset="1" stop-color="#dfcf94"/></linearGradient></defs>
<rect x="351" y="187" width="89" height="28" rx="0" fill="#857749" class="o" /><rect x="351" y="207" width="89" height="8" rx="0" fill="#5d5336" class="o" /><path d="M460.5 196 h14 v18 q-2 5 -7 5 q-6 0 -7 -5 Z" fill="#6d6242" class="o" /><path d="M326 178 L352 178 L352 215 L331 215 Z" fill="#5d5336" class="o" /><path d="M340 192 L352 188 L360 214 L340 216 Z" fill="#857749" class="o" /><rect x="446" y="161" width="40" height="19" rx="0" fill="#cdbb86" class="o" /><rect x="452" y="166" width="2.2" height="10" rx="0" fill="#5d5336" class="t" /><rect x="456.5" y="166" width="2.2" height="10" rx="0" fill="#5d5336" class="t" /><rect x="472" y="161" width="12" height="34" rx="0" fill="#85774c" class="o" /><rect x="432" y="204.8" width="36" height="5.6" rx="0" fill="#96644a" class="o" /><rect x="432" y="204.8" width="36" height="1.5" rx="0" fill="#b98a66" class="t" /><rect x="439.6" y="173.2" width="32.6" height="19.6" rx="0" fill="#e3d397" class="o" /><rect x="452.2" y="181.6" width="7.4" height="8.4" rx="1" fill="#b9a672" class="o" /><rect x="454" y="184" width="3.8" height="3" rx="0" fill="#6d6242" class="t" /><path d="M485 161 L551.5 161 L551.5 191 L534 191 L534 180 L485 180 Z" fill="#e3d397" class="o" /><path d="M484 184 Q488 166 511 164.5 Q538 166 549 184 L549 192 L484 192 Z" fill="url(#wellb)" class="o" /><path d="M482.6 188 Q485.6 165.2 511 163.4 Q541.5 165 551 186" fill="none" stroke="#1c1a15" stroke-width="2.3" /><rect x="534" y="179.5" width="17" height="12" rx="0" fill="#cbb983" class="o" /><path d="M537 182.5 h12 M537 185.5 h12 M537 188.5 h12" stroke="#4a412b" stroke-width="1.3" stroke-dasharray="1.4 1.7" fill="none"/><rect x="551.5" y="161" width="9" height="24" rx="0" fill="#9c8d5e" class="o" /><rect x="554.6" y="160" width="3.6" height="24" rx="0" fill="#4a4230" class="t" /><circle cx="557.5" cy="186.5" r="3" fill="#d7c690" class="o"/><path d="M557.3 188 V226" fill="none" stroke="#2b2a26" stroke-width="0.9" /><rect x="556.3" y="224.5" width="2.2" height="1.6" rx="0" fill="#222" class="t" /><rect x="542.2" y="164" width="7" height="7.4" rx="0" fill="#bba972" class="o" /><circle cx="545.7" cy="167.6" r="2.3" fill="#f26a21" class="o"/><rect x="456" y="124.6" width="107" height="37" rx="0" fill="#e3d397" class="o" /><rect x="456" y="124.6" width="107" height="2" rx="0" fill="#f0e4b0" class="t" /><rect x="442.5" y="125" width="9" height="39" rx="0" fill="#e3d397" class="o" /><rect x="451.5" y="134" width="4.5" height="28" rx="0" fill="#b3a06b" class="o" /><rect x="445.3" y="137" width="2" height="14" rx="0" fill="#6f6342" class="t" /><rect x="443.6" y="155" width="3.6" height="7" rx="1.5" fill="#f26a21" class="o" /><rect x="442.5" y="161" width="121" height="3.2" rx="0" fill="#cfbd88" class="o" /><rect x="459.5" y="139" width="29.2" height="18.6" rx="0" fill="#d9c890" class="o" /><path d="M459.5 157.6 V139 H488.7" fill="none" stroke="#3a3220" stroke-width="0.9" /><rect x="492.6" y="139" width="32.4" height="18.6" rx="0" fill="#d9c890" class="o" /><path d="M492.6 157.6 V139 H525" fill="none" stroke="#3a3220" stroke-width="0.9" /><rect x="530" y="139" width="28.7" height="18.6" rx="0" fill="#d9c890" class="o" /><path d="M530 157.6 V139 H558.7" fill="none" stroke="#3a3220" stroke-width="0.9" /><path d="M464.2 148.6 a1.4 1.4 0 1 1 2.4 -0.4 v4.8" stroke="#2b2618" stroke-width="1.3" fill="none"/><path d="M498.7 148.6 a1.4 1.4 0 1 1 2.4 -0.4 v4.8" stroke="#2b2618" stroke-width="1.3" fill="none"/><path d="M513.7 148.6 a1.4 1.4 0 1 1 2.4 -0.4 v4.8" stroke="#2b2618" stroke-width="1.3" fill="none"/><path d="M550.7 148.6 a1.4 1.4 0 1 1 2.4 -0.4 v4.8" stroke="#2b2618" stroke-width="1.3" fill="none"/><rect x="489" y="152" width="3.6" height="8" rx="0" fill="#cdbb86" class="o" /><rect x="525.8" y="152" width="3.6" height="8" rx="0" fill="#cdbb86" class="o" /><rect x="563" y="126" width="4" height="34" rx="0" fill="#cbb983" class="o" /><rect x="565.2" y="127" width="3" height="36" rx="0" fill="#6d6242" class="o" /><rect x="563.3" y="136" width="1.8" height="6" rx="0" fill="#3b3524" class="t" /><path d="M453.3 99 V134" fill="none" stroke="#8b8b86" stroke-width="0.9" /><rect x="452" y="134" width="2.8" height="11" rx="0" fill="#3d3a30" class="t" /><rect x="485.4" y="177.8" width="4.6" height="5.2" rx="2" fill="#d8262c" class="o" /><rect x="485.6" y="183" width="4.2" height="6" rx="1.5" fill="#efefef" class="o" /><path d="M484 189 Q480 200 477 214" fill="none" stroke="#2b2a26" stroke-width="1.2" /><path d="M342.5 152 L351 140 L386 108 L393.5 108 L395 101.3 L437.5 101.3 L439.4 104.5 L439.4 187.5 L351 187.5 L347 175 Z" fill="url(#cabb)" class="o" /><path d="M395 101.3 L437.5 101.3 L439.4 104.5 L439.4 108.3 L393.5 108.3 Z" fill="#d6c58b" class="o" /><rect x="396" y="100.4" width="41" height="2.6" rx="0.8" fill="#5d5336" class="o" /><path d="M387 111.5 H416.6 L414 133 L404 166.5 L365.8 173.2 V145.5 M413.6 111.5 L411 133 L401.5 164" fill="none" stroke="#3f3520" stroke-width="0.7" /><path d="M343.5 159 L439 132 M348.5 180 L439 168" fill="none" stroke="#4a3f26" stroke-width="0.6" stroke-dasharray="1.6 1.1"/><path d="M390 116.8 L410 116 L409.2 127.5 L391 132.6 Z" fill="#6fa3cf" class="o" /><path d="M393 119 L401 118.6 L396 130 L393 131 Z" fill="#8fbce0" class="t" /><path d="M388 114.5 L412 113.5 L411 129 L388.5 135.5 Z" fill="none" stroke="#4a4028" stroke-width="0.7" /><path d="M351 140 L386 108 L390 111 L357 143.5 Z" fill="#cbb983" class="o" /><path d="M360 139 L385.5 114 L389 114.5 L389 135 L376 140.5 Z" fill="#8d8360" class="o" /><path d="M374 126 L385 115.5 L387 134 L377 138.6 Z" fill="#4f6f92" class="t" /><circle cx="380.6" cy="130.6" r="3.6" fill="#3b4048" class="t"/><rect x="361" y="134.3" width="14" height="8.4" rx="1.5" fill="#4e472f" class="o" /><rect x="363" y="135.6" width="6" height="5.8" rx="1" fill="#7b7150" class="t" /><rect x="385.2" y="116.5" width="5.6" height="22" rx="1" fill="#6d6242" class="o" /><rect x="361" y="167.5" width="7.6" height="6.4" rx="0.8" fill="#5d5336" class="o" /><rect x="364.5" y="183.2" width="5" height="3.8" rx="0.8" fill="#5d5336" class="t" /><rect x="425.5" y="183.2" width="5" height="3.8" rx="0.8" fill="#5d5336" class="t" /><rect x="393" y="155.6" width="12" height="2.4" rx="1.2" fill="#2e2a1f" class="t" /><rect x="410.6" y="154.6" width="9.4" height="2.4" rx="1.2" fill="#2e2a1f" class="t" /><path d="M416.7 113.2 h0.1 M434.7 113.2 h0.1 M434.7 129 h0.1 M419 132.7 h0.1 M420.5 138 h0.1 M432.5 160.5 h0.1 M420.5 167.2 h0.1 M437.5 167.2 h0.1 M413 171.7 h0.1 M405.5 167.2 h0.1 M401 165 h0.1 M337.2 160.5 h0.1 M338.8 166.5 h0.1 M341.7 156 h0.1 M349.2 172.5 h0.1 M354.5 178.5 h0.1 M359 174.7 h0.1 M345 170 h0.1 M342.5 176 h0.1 M347 182 h0.1 M436 121 h0.1 M436 142 h0.1 M436.5 152 h0.1 M428 175 h0.1 M424 182 h0.1 M395 176 h0.1 M384 178.5 h0.1 M372 179.5 h0.1 M410 160 h0.1 M398 141 h0.1 M392 143 h0.1 M364 160 h0.1 M356 163 h0.1 M370 154 h0.1 M421 112 h0.1 M428 112 h0.1 M421 146 h0.1 M427 164 h0.1 M433 183.5 h0.1 M360 184.5 h0.1 M377 184.5 h0.1 M418 184.5 h0.1" stroke="#3f3520" stroke-width="1.25" stroke-linecap="round" fill="none"/><rect x="372" y="190.8" width="49.4" height="2.8" rx="0" fill="#ddcd98" class="o" /><path d="M362.5 199.5 L366 198 L378 210.5 H427 L437 201" fill="none" stroke="#2e2818" stroke-width="3.4" /><path d="M362.5 199.5 L366 198 L378 210.5 H427 L437 201" fill="none" stroke="#d3c28a" stroke-width="2" /><path d="M381 194 V210 M413 194 V210" fill="none" stroke="#2e2818" stroke-width="2.6" /><path d="M381 194 V210 M413 194 V210" fill="none" stroke="#d3c28a" stroke-width="1.4" /><path d="M440 207.6 H366 Q361 207.6 359.6 202" fill="none" stroke="#3a2a1c" stroke-width="5.4" /><path d="M440 207.6 H366 Q361 207.6 359.6 202" fill="none" stroke="#96644a" stroke-width="4" /><path d="M440 206.4 H366" fill="none" stroke="#b98a66" stroke-width="1.1" /><path d="M245.6 161 Q262 150.5 300 143.5 Q322 139.2 343 138.8 L351 140 L342.5 152 L349.5 187.5 L331 187.5 L331 178 L268 178 L262 186 L248 186 L246.5 181 Z" fill="url(#hoodb)" class="o" /><path d="M251 162 Q270 152.5 301 147.5 Q313 146 321 149.5 L333 166" fill="none" stroke="#2e2818" stroke-width="0.8" /><path d="M246 161.2 Q262 151 300 144 Q322 139.6 343 139.2 L343 141.5 Q320 142 300 146.4 Q265 153 250.5 163 Z" fill="#f0e4b0" class="t" /><path d="M268.6 178 Q272 156.4 301 153.8 Q326 155 333.5 178 Z" fill="url(#wellb)" class="o" /><path d="M268.6 178 Q272 156.4 301 153.8 Q326 155 333.5 178" fill="none" stroke="#241f12" stroke-width="0.9" /><rect x="268" y="175.6" width="65" height="2.8" rx="0" fill="#cdbb86" class="o" /><path d="M321 149.5 L328 147.5 L352 187.5 L343 187.5 Z" fill="#cdbb86" class="o" /><path d="M331 176 L336.5 178 L352 215 L343 215 L336 190 Z" fill="#9c8d5e" class="o" /><path d="M325 149.4 L327.5 148 L334.5 158 L332 159.6 Z" fill="#e2d4a2" class="o" /><rect x="284.4" y="170" width="15.6" height="8.2" rx="0" fill="#cdbb86" class="o" /><rect x="284.4" y="170" width="15.6" height="2" rx="0" fill="#e0d19e" class="t" /><path d="M245.8 161.5 L254 160 L256.6 181 L247 182 Z" fill="#5f563b" class="o" /><circle cx="250.6" cy="171.6" r="3.3" fill="#7b7252" class="o"/><path d="M255 164.5 L258.5 170.5 H264 L267 164" fill="none" stroke="#3a3220" stroke-width="0.6" /><path d="M257 165.6 h7 M257.6 167.6 h6" fill="none" stroke="#b0681f" stroke-width="0.7" /><rect x="257" y="173" width="6.2" height="3" rx="1.4" fill="#f26a21" class="o" /><path d="M262 186 L268 180 L284 181 L275 189 L264 197 Z" fill="#c4b07a" class="o" /><path d="M263 191 L276 186 L271 194 L263 199 Z" fill="#fff" class="t" /><rect x="247" y="187" width="15.4" height="13" rx="0" fill="#c0ad77" class="o" /><rect x="247" y="187" width="15.4" height="2" rx="0" fill="#e0d19c" class="t" /><rect x="241.5" y="187" width="6" height="9" rx="0" fill="#b9a672" class="o" /><path d="M237 200 L241 190.5 L246 189.5 L246.5 193 L243 194.5 L240.5 201.5 Z" fill="#b01e28" class="o" /><circle cx="247.8" cy="203.6" r="3.1" fill="#9c8d5e" class="o"/><circle cx="247.8" cy="203.8" r="1.3" fill="#fff" class="t"/><path d="M252 200.2 L262 200.2 L260 205 L254 205 Z" fill="#a8955f" class="o" /><circle cx="256.6" cy="209.4" r="2.4" fill="#9c8d5e" class="o"/><path d="M256.5 211 V222.6" fill="none" stroke="#3a3220" stroke-width="2.4" /><path d="M256.5 211 V222" fill="none" stroke="#8d7e52" stroke-width="1.2" /><path d="M247 145 Q241.4 147 241.8 156 L244.2 179" fill="none" stroke="#2e2818" stroke-width="3" /><path d="M247 145 Q241.4 147 241.8 156 L244.2 179" fill="none" stroke="#8d7e52" stroke-width="1.6" /><rect x="245.2" y="137.6" width="16.2" height="13" rx="2.4" fill="#9c8d5e" class="o" transform="rotate(-4 253 144)"/><rect x="247.2" y="139.6" width="12.2" height="9.2" rx="1.8" fill="#5b5339" class="o" transform="rotate(-4 253 144)"/><rect x="350.6" y="99" width="4.8" height="9" rx="1" fill="#9c8d5e" class="o" /><rect x="351.6" y="96.5" width="2.8" height="3" rx="0" fill="#85774c" class="t" /><rect x="349.6" y="108" width="6.8" height="10" rx="1" fill="#8a7c50" class="o" /><rect x="351" y="118" width="4.2" height="10" rx="0" fill="#7b6d47" class="o" /><path d="M346 121 L352 121 L352 124 L346 123.4 Z" fill="#6d6242" class="o" /><path d="M350 128 L356 127 L362 134 L356 138 Z" fill="#7b6d47" class="o" /><rect x="372.6" y="98.6" width="7.2" height="7.6" rx="2" fill="#2e2f30" class="o" /><circle cx="375.4" cy="102.4" r="2.2" fill="#63666b" class="t"/><path d="M369.5 107.5 L380 105.6 L384 109 L374 112 Z" fill="#bca975" class="o" /><rect x="339.4" y="128" width="2.8" height="9.4" rx="1" fill="#2b2a26" class="o" /><circle cx="347.2" cy="133.2" r="2.3" fill="#7b6d47" class="o"/><path d="M337 140 L346 139 L349 146 L347 152.5 L340 147 Z" fill="#b9a672" class="o" /><rect x="340.6" y="143.2" width="4.6" height="1.6" rx="0.8" fill="#2b2a26" class="t" /><path d="M348 142.5 L360 146 L362.5 151.5 L350 155.5 Z" fill="#c4b07a" class="o" /><path d="M350 145 L358.5 147.5 L360 151 L351.5 153.6 Z" fill="#a8955f" class="t" />
<g transform="translate(302 212)"><circle r="32.9" fill="#1b1c1e"/><circle r="30.799999999999997" fill="none" stroke="#3d3f43" stroke-width="2.6" stroke-dasharray="2.3 1.7"/><circle r="28.599999999999998" fill="#34363a"/><circle r="26.299999999999997" fill="url(#tyreb)" stroke="#232426" stroke-width="0.5"/><path d="M17.0 0.3 L28.4 0.5 M11.8 12.2 L19.7 20.4 M-0.3 17.0 L-0.5 28.4 M-12.2 11.8 L-20.4 19.7 M-17.0 -0.3 L-28.4 -0.5 M-11.8 -12.2 L-19.7 -20.4 M0.3 -17.0 L0.5 -28.4 M12.2 -11.8 L20.4 -19.7 " stroke="#2b2c2f" stroke-width="0.55" fill="none"/><circle r="18" fill="#1c1d1f"/><circle r="14.4" fill="#474a4e"/><circle r="12" fill="none" stroke="#17181a" stroke-width="2.2" stroke-dasharray="1.5 1.64"/><circle r="9" fill="#53565b" stroke="#1e1f21" stroke-width="0.8"/><circle r="5.6" fill="#5e6166" stroke="#2d2e31" stroke-width="0.5"/><path d="M-2.6 2.6 q2.6 -1.4 5.4 -0.6 M-0.4 -2.4 l1.2 1.6" stroke="#26272a" stroke-width="0.9" fill="none"/></g>
<g transform="translate(513 212)"><circle r="32.9" fill="#1b1c1e"/><circle r="30.799999999999997" fill="none" stroke="#3d3f43" stroke-width="2.6" stroke-dasharray="2.3 1.7"/><circle r="28.599999999999998" fill="#34363a"/><circle r="26.299999999999997" fill="url(#tyreb)" stroke="#232426" stroke-width="0.5"/><path d="M17.0 0.3 L28.4 0.5 M11.8 12.2 L19.7 20.4 M-0.3 17.0 L-0.5 28.4 M-12.2 11.8 L-20.4 19.7 M-17.0 -0.3 L-28.4 -0.5 M-11.8 -12.2 L-19.7 -20.4 M0.3 -17.0 L0.5 -28.4 M12.2 -11.8 L20.4 -19.7 " stroke="#2b2c2f" stroke-width="0.55" fill="none"/><circle r="18" fill="#1c1d1f"/><circle r="14.4" fill="#474a4e"/><circle r="12" fill="none" stroke="#17181a" stroke-width="2.2" stroke-dasharray="1.5 1.64"/><circle r="9" fill="#53565b" stroke="#1e1f21" stroke-width="0.8"/><circle r="5.6" fill="#5e6166" stroke="#2d2e31" stroke-width="0.5"/><path d="M-2.6 2.6 q2.6 -1.4 5.4 -0.6 M-0.4 -2.4 l1.2 1.6" stroke="#26272a" stroke-width="0.9" fill="none"/></g>
</g>
<text x="406" y="498.8" font-size="3.1" font-weight="bold" fill="#4a4028" letter-spacing="0.3">RT 8P BV</text>
<g id="frontview">
<defs><pattern id="mesh" width="1.6" height="1.6" patternUnits="userSpaceOnUse"><rect width="1.6" height="1.6" fill="#6f6344"/><rect width="1.15" height="1.15" fill="#1f1c14"/></pattern><pattern id="tread" width="7.2" height="10.4" patternUnits="userSpaceOnUse" patternTransform="translate(222.4 717)"><rect width="7.2" height="10.4" fill="#17181a"/><path d="M1 1.2 L3.6 0.3 L6.2 1.2 L6.2 3.6 L3.6 4.6 L1 3.6 Z" fill="#6a6d72"/><path d="M-2.6 6.4 L0 5.5 L2.6 6.4 L2.6 8.8 L0 9.8 L-2.6 8.8 Z M4.6 6.4 L7.2 5.5 L9.8 6.4 L9.8 8.8 L7.2 9.8 L4.6 8.8 Z" fill="#5a5d62"/></pattern><linearGradient id="fglass" x1="0" y1="0" x2="0" y2="1"><stop offset="0" stop-color="#4d7fb0"/><stop offset="1" stop-color="#6b9bc8"/></linearGradient></defs>
<clipPath id="fclip"><rect x="0" y="600" width="288.9" height="200"/></clipPath>
<g clip-path="url(#fclip)"><rect x="222" y="716" width="22" height="47" rx="3" fill="#1d1e20" class="o" /><rect x="223" y="717" width="20" height="45" rx="2.5" fill="url(#tread)"/><path d="M244 717 L290.4 717 L290.4 736 L272 737 L262 741 L252 743 L246 739 Z" fill="#7e7049" class="o" /><path d="M244 722 L262 724 L272 730 L272 737 L258 739 L246 733 Z" fill="#ac9a65" class="o" /><path d="M259 735 L272 733.4 L274 737 L262 741.4 L257 739 Z" fill="#cbbc84" class="o" /><circle cx="250.6" cy="737.6" r="3.4" fill="#bcac78" class="o"/><circle cx="250.6" cy="737.6" r="1.5" fill="#f4efe0" class="t"/><path d="M246 740 L252 741.6 L250 746.4 L246 745 Z" fill="#9d8c57" class="o" /><path d="M246 727 L270 735" fill="none" stroke="#3a3220" stroke-width="0.5" /><path d="M246 717 L258 717 L258 727 L246 727 Z" fill="#6d6242" class="o" /><rect x="249" y="724" width="41.4" height="5" rx="0" fill="#c6b67e" class="o" /><path d="M220.4 680 L224 668.6 L238.6 658.6 L290.4 658.6 L290.4 704 L220.4 704 Z" fill="#cbbc84" class="o" /><path d="M238.6 658.6 L290.4 658.6 L290.4 681 L255 681 L250 676 Z" fill="#c6b67e" class="o" /><path d="M248.8 658.6 L290.4 658.6 L290.4 668.8 L258.8 668.8 Z" fill="#b6a56f" class="o" /><path d="M238.6 658.6 L250 676 L255 681 H290.4" fill="none" stroke="#2e2818" stroke-width="0.7" /><rect x="220.6" y="704" width="70" height="13.6" rx="0" fill="#bcac78" class="o" /><rect x="222" y="707" width="26.6" height="10.6" rx="0" fill="#c2b27d" class="o" /><rect x="238.4" y="710.6" width="4" height="4.4" rx="0" fill="#9d8c57" class="t" /><rect x="249.8" y="709.6" width="3.6" height="8" rx="1" fill="#cf2a2e" class="o" /><rect x="254.6" y="708" width="6" height="12" rx="0" fill="#cbbc84" class="o" /><path d="M263.6 706 L290.4 706 L290.4 729 L266 729 L263.6 722 Z" fill="#c0af7b" class="o" /><path d="M268 710.6 h7 M278 710.6 h10 M271 716.6 h5 M280 716.6 h8" fill="none" stroke="#2b2618" stroke-width="2.2" /><rect x="263.6" y="721.6" width="27" height="7.4" rx="0" fill="#ad9c68" class="o" /><path d="M273.6 729 L290.4 729 L290.4 738.8 L277 738.8 Z" fill="#b8a772" class="o" /><rect x="279.6" y="730.4" width="11" height="3" rx="0" fill="#85774c" class="t" /><path d="M226 681.4 L249 681.4 Q250.6 690 249.6 699 Q248 700.6 244 700 Q230 697 226 684 Z" fill="#bead78" class="o" /><path d="M227.6 683 L247.6 683 Q248.8 690 248 697.6 Q245 698.6 242 697.6 Q231 694 227.6 683 Z" fill="#7b7050" class="t" /><circle cx="232.6" cy="685.2" r="2.9" fill="#f2601d" class="o"/><circle cx="242.4" cy="691" r="4.9" fill="#b9c9e2" class="o"/><path d="M240 688 v6 M242.4 687 v8 M244.8 688 v6" fill="none" stroke="#7e8fae" stroke-width="0.6" /><rect x="254.4" y="682" width="27.2" height="19" rx="1" fill="#8a7c52" class="o" /><rect x="255.4" y="683" width="25.2" height="17" rx="1" fill="url(#mesh)" class="t" /><rect x="282.8" y="685.6" width="7.8" height="15.4" rx="1" fill="#8a7c52" class="o" /><rect x="283.4" y="686.4" width="7" height="14" rx="1" fill="url(#mesh)" class="t" /><path d="M220 663.8 L249 676.6 Q252.6 678.6 252.6 683 L252.6 688" fill="none" stroke="#2e2818" stroke-width="2.3" /><path d="M220 663.8 L249 676.6 Q252.6 678.6 252.6 683 L252.6 688" fill="none" stroke="#bead78" stroke-width="1.2" /><path d="M236.4 658.6 L237.6 630 L241 624 L290.4 624 L290.4 658.6 Z" fill="#c8b880" class="o" /><rect x="244" y="620.6" width="46.4" height="4" rx="0" fill="#b8a772" class="o" /><rect x="236.6" y="653.6" width="53.8" height="5" rx="0" fill="#d2c48f" class="o" /><path d="M238 652 L240 629 L246 628 L244.4 652 Z" fill="#d8cb98" class="o" /><path d="M246.5 632.5 L280 632.5 L283 645 L271 649.5 L244.5 649.5 Z" fill="url(#fglass)" class="o" /><path d="M252 648 L270 641.6 L280 639" fill="none" stroke="#2b2a26" stroke-width="1.1" /><path d="M247 625.6 h4 M270 622.6 h6" fill="none" stroke="#b0521f" stroke-width="1" /><rect x="241" y="617.6" width="9.2" height="5.8" rx="1.2" fill="#26272a" class="o" /><rect x="243.6" y="623.2" width="3.6" height="2" rx="0" fill="#3a3b34" class="t" /><rect x="214.4" y="643" width="8" height="11" rx="1" fill="#9d8c57" class="o" /><rect x="216" y="645" width="3" height="7" rx="0.6" fill="#4a4230" class="t" /><rect x="222.4" y="644" width="7" height="16" rx="1" fill="#6d6242" class="o" /><rect x="228.6" y="640" width="8" height="25" rx="1" fill="#8d7e52" class="o" /><path d="M210 658 L224 656 L230 662 L222 668 L212 664 Z" fill="#8d7e52" class="o" /><rect x="201.2" y="636.2" width="11" height="23.4" rx="3" fill="#c6b67e" class="o" /><rect x="203" y="638.2" width="7.4" height="19.4" rx="2.6" fill="#7e7049" class="o" /><ellipse cx="206.7" cy="647.8" rx="2.4" ry="7.6" fill="#ac9a65" class="t"/></g>
<g transform="translate(576.8 0) scale(-1 1)"><g clip-path="url(#fclip)"><rect x="222" y="716" width="22" height="47" rx="3" fill="#1d1e20" class="o" /><rect x="223" y="717" width="20" height="45" rx="2.5" fill="url(#tread)"/><path d="M244 717 L290.4 717 L290.4 736 L272 737 L262 741 L252 743 L246 739 Z" fill="#7e7049" class="o" /><path d="M244 722 L262 724 L272 730 L272 737 L258 739 L246 733 Z" fill="#ac9a65" class="o" /><path d="M259 735 L272 733.4 L274 737 L262 741.4 L257 739 Z" fill="#cbbc84" class="o" /><circle cx="250.6" cy="737.6" r="3.4" fill="#bcac78" class="o"/><circle cx="250.6" cy="737.6" r="1.5" fill="#f4efe0" class="t"/><path d="M246 740 L252 741.6 L250 746.4 L246 745 Z" fill="#9d8c57" class="o" /><path d="M246 727 L270 735" fill="none" stroke="#3a3220" stroke-width="0.5" /><path d="M246 717 L258 717 L258 727 L246 727 Z" fill="#6d6242" class="o" /><rect x="249" y="724" width="41.4" height="5" rx="0" fill="#c6b67e" class="o" /><path d="M220.4 680 L224 668.6 L238.6 658.6 L290.4 658.6 L290.4 704 L220.4 704 Z" fill="#cbbc84" class="o" /><path d="M238.6 658.6 L290.4 658.6 L290.4 681 L255 681 L250 676 Z" fill="#c6b67e" class="o" /><path d="M248.8 658.6 L290.4 658.6 L290.4 668.8 L258.8 668.8 Z" fill="#b6a56f" class="o" /><path d="M238.6 658.6 L250 676 L255 681 H290.4" fill="none" stroke="#2e2818" stroke-width="0.7" /><rect x="220.6" y="704" width="70" height="13.6" rx="0" fill="#bcac78" class="o" /><rect x="222" y="707" width="26.6" height="10.6" rx="0" fill="#c2b27d" class="o" /><rect x="238.4" y="710.6" width="4" height="4.4" rx="0" fill="#9d8c57" class="t" /><rect x="249.8" y="709.6" width="3.6" height="8" rx="1" fill="#cf2a2e" class="o" /><rect x="254.6" y="708" width="6" height="12" rx="0" fill="#cbbc84" class="o" /><path d="M263.6 706 L290.4 706 L290.4 729 L266 729 L263.6 722 Z" fill="#c0af7b" class="o" /><path d="M268 710.6 h7 M278 710.6 h10 M271 716.6 h5 M280 716.6 h8" fill="none" stroke="#2b2618" stroke-width="2.2" /><rect x="263.6" y="721.6" width="27" height="7.4" rx="0" fill="#ad9c68" class="o" /><path d="M273.6 729 L290.4 729 L290.4 738.8 L277 738.8 Z" fill="#b8a772" class="o" /><rect x="279.6" y="730.4" width="11" height="3" rx="0" fill="#85774c" class="t" /><path d="M226 681.4 L249 681.4 Q250.6 690 249.6 699 Q248 700.6 244 700 Q230 697 226 684 Z" fill="#bead78" class="o" /><path d="M227.6 683 L247.6 683 Q248.8 690 248 697.6 Q245 698.6 242 697.6 Q231 694 227.6 683 Z" fill="#7b7050" class="t" /><circle cx="232.6" cy="685.2" r="2.9" fill="#f2601d" class="o"/><circle cx="242.4" cy="691" r="4.9" fill="#b9c9e2" class="o"/><path d="M240 688 v6 M242.4 687 v8 M244.8 688 v6" fill="none" stroke="#7e8fae" stroke-width="0.6" /><rect x="254.4" y="682" width="27.2" height="19" rx="1" fill="#8a7c52" class="o" /><rect x="255.4" y="683" width="25.2" height="17" rx="1" fill="url(#mesh)" class="t" /><rect x="282.8" y="685.6" width="7.8" height="15.4" rx="1" fill="#8a7c52" class="o" /><rect x="283.4" y="686.4" width="7" height="14" rx="1" fill="url(#mesh)" class="t" /><path d="M220 663.8 L249 676.6 Q252.6 678.6 252.6 683 L252.6 688" fill="none" stroke="#2e2818" stroke-width="2.3" /><path d="M220 663.8 L249 676.6 Q252.6 678.6 252.6 683 L252.6 688" fill="none" stroke="#bead78" stroke-width="1.2" /><path d="M236.4 658.6 L237.6 630 L241 624 L290.4 624 L290.4 658.6 Z" fill="#c8b880" class="o" /><rect x="244" y="620.6" width="46.4" height="4" rx="0" fill="#b8a772" class="o" /><rect x="236.6" y="653.6" width="53.8" height="5" rx="0" fill="#d2c48f" class="o" /><path d="M238 652 L240 629 L246 628 L244.4 652 Z" fill="#d8cb98" class="o" /><path d="M246.5 632.5 L280 632.5 L283 645 L271 649.5 L244.5 649.5 Z" fill="url(#fglass)" class="o" /><path d="M252 648 L270 641.6 L280 639" fill="none" stroke="#2b2a26" stroke-width="1.1" /><path d="M247 625.6 h4 M270 622.6 h6" fill="none" stroke="#b0521f" stroke-width="1" /><rect x="241" y="617.6" width="9.2" height="5.8" rx="1.2" fill="#26272a" class="o" /><rect x="243.6" y="623.2" width="3.6" height="2" rx="0" fill="#3a3b34" class="t" /><rect x="214.4" y="643" width="8" height="11" rx="1" fill="#9d8c57" class="o" /><rect x="216" y="645" width="3" height="7" rx="0.6" fill="#4a4230" class="t" /><rect x="222.4" y="644" width="7" height="16" rx="1" fill="#6d6242" class="o" /><rect x="228.6" y="640" width="8" height="25" rx="1" fill="#8d7e52" class="o" /><path d="M210 658 L224 656 L230 662 L222 668 L212 664 Z" fill="#8d7e52" class="o" /><rect x="201.2" y="636.2" width="11" height="23.4" rx="3" fill="#c6b67e" class="o" /><rect x="203" y="638.2" width="7.4" height="19.4" rx="2.6" fill="#7e7049" class="o" /><ellipse cx="206.7" cy="647.8" rx="2.4" ry="7.6" fill="#ac9a65" class="t"/></g></g>
<rect x="281.6" y="628.6" width="13.6" height="7" rx="1" fill="#cfc08d" class="o" />
<rect x="284.4" y="635.6" width="8" height="18" rx="1" fill="#bead78" class="o" />
<rect x="279" y="619.6" width="19" height="2.4" rx="1" fill="#ac9a65" class="o" />
<circle cx="288.4" cy="618.6" r="2.2" fill="#c6b67e" class="o"/>
<circle cx="349.4" cy="697.6" r="2.3" fill="#f4f1e4" class="o"/>
</g>
<g id="rearview">
<clipPath id="rclip"><rect x="0" y="600" width="519.9" height="200"/></clipPath>
<g clip-path="url(#rclip)"><rect x="452.4" y="738" width="21.6" height="25" rx="3" fill="#1d1e20" class="o"/><rect x="453.4" y="739" width="19.6" height="23" rx="2.5" fill="url(#tread)"/><path d="M474 698 L521.4 698 L521.4 739.4 L511 739.4 L505 736 L494 737.6 L485 745.4 L476 742 Z" fill="#7e7049" class="o" /><path d="M474 698 L521.4 698 L521.4 708 L497 708 L492 703 L474 703 Z" fill="#cdbb86" class="o" /><rect x="497" y="700.4" width="9.6" height="8.4" rx="0" fill="#e0d19c" class="o" /><rect x="510.4" y="699" width="11" height="5" rx="0" fill="#5d5336" class="t" /><path d="M478 703 L484.4 703 L481 733 L476.4 733 Z" fill="#d3c28a" class="o" /><path d="M486 704 L490.6 704 L488 722 L484 722 Z" fill="#a8955f" class="t" /><path d="M495.4 713.6 L509 712.6 L511 716.6 L506.4 722 L509.6 737 L501 737 L497.4 722 Z" fill="#e2d39e" class="o" /><path d="M500.6 718 L505 717.6 L504 726 L502.4 726 Z" fill="#6d6242" class="t" /><path d="M476 719 L506 717 L506 720.4 L476 723 Z" fill="#d9c990" class="o" /><path d="M475 727 L489 725.6 L492 729 L488 733 L475 734 Z" fill="#b7a46e" class="o" /><circle cx="479.6" cy="729.4" r="2.6" fill="#d9c990" class="o"/><path d="M477 737 L492 733 L496 736 L486 744.6 L478 741 Z" fill="#c4b27c" class="o" /><rect x="450.2" y="703" width="24.4" height="41.4" rx="0.8" fill="#4a4d54" class="o" /><path d="M452.6 744 V710 Q452.6 708 454.6 708 H470 Q472 708 472 710 V744" fill="none" stroke="#2a2c30" stroke-width="0.6" /><path d="M462.4 703 V711" fill="none" stroke="#1d1e20" stroke-width="0.7" /><path d="M449.6 678 L521.4 678 L521.4 697.6 L492 697.6 L452 680.6 L452 703 L449.6 703 Z" fill="#e0d19c" class="o" /><path d="M452 680.6 L492 697.6 L476 697.6 L476 703 L452 703 Z" fill="#cdbb86" class="o" /><rect x="492" y="682.6" width="29.4" height="10.6" rx="0" fill="#e6d8a6" class="o" /><rect x="467.6" y="681" width="6.4" height="2.8" rx="1.3" fill="#f2601d" class="o" /><rect x="459.6" y="681.4" width="4.6" height="2" rx="1" fill="#c98a3a" class="t" /><circle cx="462.2" cy="691.2" r="3" fill="#f2601d" class="o"/><circle cx="456.2" cy="695.6" r="2.3" fill="#ee4d1f" class="o"/><circle cx="462.4" cy="696" r="1.8" fill="#d9d2b4" class="t"/><rect x="454.4" y="645" width="67" height="33.4" rx="0" fill="#e2d39e" class="o" /><rect x="454.4" y="645" width="67" height="2.6" rx="0" fill="#eadda9" class="t" /><rect x="454.4" y="671.6" width="67" height="6.6" rx="0" fill="#d9c990" class="o" /><rect x="457" y="648.6" width="21.6" height="22.6" rx="0" fill="#dccc95" class="o" /><rect x="505" y="648.6" width="16.4" height="22.6" rx="0" fill="#dccc95" class="o" /><rect x="478.8" y="648.6" width="3" height="22.6" rx="0" fill="#eadda9" class="t" /><path d="M465.6 663.4 a1.4 1.4 0 1 1 2.4 -0.4 v4.6" stroke="#2b2618" stroke-width="1.2" fill="none"/><path d="M467 645 L467.4 628 L472 623.4 L480 622.6 L521.4 622.6 L521.4 645 Z" fill="#ddcd96" class="o" /><path d="M472.6 644 L473 630 Q476 626 482 626 L521.4 626 L521.4 644 Z" fill="#e6d8a4" class="t" /><rect x="463" y="633" width="5" height="12" rx="0" fill="#a8955f" class="o" /><rect x="497" y="620.4" width="24.4" height="2.6" rx="0" fill="#c4b27c" class="o" /><rect x="471.8" y="617.4" width="9" height="5.8" rx="1.2" fill="#26272a" class="o" /></g>
<g transform="translate(1038.8 0) scale(-1 1)"><g clip-path="url(#rclip)"><rect x="452.4" y="738" width="21.6" height="25" rx="3" fill="#1d1e20" class="o"/><rect x="453.4" y="739" width="19.6" height="23" rx="2.5" fill="url(#tread)"/><path d="M474 698 L521.4 698 L521.4 739.4 L511 739.4 L505 736 L494 737.6 L485 745.4 L476 742 Z" fill="#7e7049" class="o" /><path d="M474 698 L521.4 698 L521.4 708 L497 708 L492 703 L474 703 Z" fill="#cdbb86" class="o" /><rect x="497" y="700.4" width="9.6" height="8.4" rx="0" fill="#e0d19c" class="o" /><rect x="510.4" y="699" width="11" height="5" rx="0" fill="#5d5336" class="t" /><path d="M478 703 L484.4 703 L481 733 L476.4 733 Z" fill="#d3c28a" class="o" /><path d="M486 704 L490.6 704 L488 722 L484 722 Z" fill="#a8955f" class="t" /><path d="M495.4 713.6 L509 712.6 L511 716.6 L506.4 722 L509.6 737 L501 737 L497.4 722 Z" fill="#e2d39e" class="o" /><path d="M500.6 718 L505 717.6 L504 726 L502.4 726 Z" fill="#6d6242" class="t" /><path d="M476 719 L506 717 L506 720.4 L476 723 Z" fill="#d9c990" class="o" /><path d="M475 727 L489 725.6 L492 729 L488 733 L475 734 Z" fill="#b7a46e" class="o" /><circle cx="479.6" cy="729.4" r="2.6" fill="#d9c990" class="o"/><path d="M477 737 L492 733 L496 736 L486 744.6 L478 741 Z" fill="#c4b27c" class="o" /><rect x="450.2" y="703" width="24.4" height="41.4" rx="0.8" fill="#4a4d54" class="o" /><path d="M452.6 744 V710 Q452.6 708 454.6 708 H470 Q472 708 472 710 V744" fill="none" stroke="#2a2c30" stroke-width="0.6" /><path d="M462.4 703 V711" fill="none" stroke="#1d1e20" stroke-width="0.7" /><path d="M449.6 678 L521.4 678 L521.4 697.6 L492 697.6 L452 680.6 L452 703 L449.6 703 Z" fill="#e0d19c" class="o" /><path d="M452 680.6 L492 697.6 L476 697.6 L476 703 L452 703 Z" fill="#cdbb86" class="o" /><rect x="492" y="682.6" width="29.4" height="10.6" rx="0" fill="#e6d8a6" class="o" /><rect x="467.6" y="681" width="6.4" height="2.8" rx="1.3" fill="#f2601d" class="o" /><rect x="459.6" y="681.4" width="4.6" height="2" rx="1" fill="#c98a3a" class="t" /><circle cx="462.2" cy="691.2" r="3" fill="#f2601d" class="o"/><circle cx="456.2" cy="695.6" r="2.3" fill="#ee4d1f" class="o"/><circle cx="462.4" cy="696" r="1.8" fill="#d9d2b4" class="t"/><rect x="454.4" y="645" width="67" height="33.4" rx="0" fill="#e2d39e" class="o" /><rect x="454.4" y="645" width="67" height="2.6" rx="0" fill="#eadda9" class="t" /><rect x="454.4" y="671.6" width="67" height="6.6" rx="0" fill="#d9c990" class="o" /><rect x="457" y="648.6" width="21.6" height="22.6" rx="0" fill="#dccc95" class="o" /><rect x="505" y="648.6" width="16.4" height="22.6" rx="0" fill="#dccc95" class="o" /><rect x="478.8" y="648.6" width="3" height="22.6" rx="0" fill="#eadda9" class="t" /><path d="M465.6 663.4 a1.4 1.4 0 1 1 2.4 -0.4 v4.6" stroke="#2b2618" stroke-width="1.2" fill="none"/><path d="M467 645 L467.4 628 L472 623.4 L480 622.6 L521.4 622.6 L521.4 645 Z" fill="#ddcd96" class="o" /><path d="M472.6 644 L473 630 Q476 626 482 626 L521.4 626 L521.4 644 Z" fill="#e6d8a4" class="t" /><rect x="463" y="633" width="5" height="12" rx="0" fill="#a8955f" class="o" /><rect x="497" y="620.4" width="24.4" height="2.6" rx="0" fill="#c4b27c" class="o" /><rect x="471.8" y="617.4" width="9" height="5.8" rx="1.2" fill="#26272a" class="o" /></g></g>
<path d="M440 658 L450 656.6 L451 668.4 L444 668.4 L440 664 Z" fill="#7ea6cc" class="o" /><rect x="444.4" y="643" width="7" height="11.6" rx="1.5" fill="#86afd6" class="o" /><rect x="431.4" y="635.8" width="12" height="24" rx="2.4" fill="#a3c4e4" class="o" /><rect x="433.4" y="637.6" width="3" height="20.4" rx="1.5" fill="#c2d9f0" class="t" />
<g transform="translate(1038.2 0) scale(-1 1)"><path d="M440 658 L450 656.6 L451 668.4 L444 668.4 L440 664 Z" fill="#7ea6cc" class="o" /><rect x="444.4" y="643" width="7" height="11.6" rx="1.5" fill="#86afd6" class="o" /><rect x="431.4" y="635.8" width="12" height="24" rx="2.4" fill="#a3c4e4" class="o" /><rect x="433.4" y="637.6" width="3" height="20.4" rx="1.5" fill="#c2d9f0" class="t" /></g>
<rect x="485" y="647.4" width="18.8" height="44" rx="0" fill="#d9c990" class="o" />
<rect x="487.6" y="649.6" width="13.6" height="40" rx="0" fill="#c9b883" class="t" />
<rect x="487.6" y="651" width="13.6" height="3.4" rx="0" fill="#e6d8a6" class="t" />
<rect x="487.6" y="659.6" width="13.6" height="3.4" rx="0" fill="#e6d8a6" class="t" />
<rect x="487.6" y="668.4" width="13.6" height="3.4" rx="0" fill="#e6d8a6" class="t" />
<rect x="487.6" y="677.2" width="13.6" height="3.4" rx="0" fill="#e6d8a6" class="t" />
<rect x="487.6" y="686" width="13.6" height="3.4" rx="0" fill="#e6d8a6" class="t" />
<path d="M513 622.6 L516 619 L528 619 L531 622.6 Z" fill="#d3c28a" class="o" />
<path d="M509.6 720.4 H527.4 V733.4 Q518.4 742 509.6 733.4 Z" fill="#6d6242" class="o" />
<rect x="509.6" y="730.4" width="17.8" height="2.6" rx="0" fill="#cdbb86" class="o" />
<ellipse cx="518.4" cy="725" rx="5" ry="3.8" fill="#b7a46e" class="o"/>
<circle cx="519.6" cy="712.4" r="2.6" fill="#3b3524" class="o"/>
<circle cx="519.6" cy="712.4" r="1.1" fill="#b7a46e" class="t"/>
<circle cx="528.4" cy="713.4" r="2" fill="#d9c990" class="o"/>
</g>
<text x="270.30" y="122.00" class="lh">H</text><rect x="278.40" y="114.50" width="22.2" height="8.4" fill="#fff" stroke="#111" stroke-width="0.8"/><rect x="289.70" y="114.50" width="10.9" height="8.4" fill="#111"/><text x="284.20" y="121.00" class="ln" text-anchor="middle">12</text><text x="295.20" y="121.10" class="lb" text-anchor="middle">33</text>
<path d="M302.5 118.6 L317.0 118.6 L339.6 132.8" class="ld"/>
<text x="319.30" y="102.35" class="nm" text-anchor="middle">4</text>
<path d="M323.8 98.4 L338.7 98.4 L345.6 130.5" class="ld"/>
<text x="355.70" y="86.30" class="lh">H</text><rect x="363.80" y="78.80" width="22.2" height="8.4" fill="#fff" stroke="#111" stroke-width="0.8"/><rect x="375.10" y="78.80" width="10.9" height="8.4" fill="#111"/><text x="369.60" y="85.30" class="ln" text-anchor="middle">12</text><text x="380.60" y="85.40" class="lb" text-anchor="middle">33</text>
<path d="M375.0 88.0 L375.0 98.0" class="ld"/>
<text x="395.70" y="87.45" class="nm" text-anchor="middle">1</text>
<path d="M396.2 89.0 L396.2 157.0" class="ld"/>
<text x="402.70" y="82.00" class="lh">H</text><rect x="410.80" y="74.50" width="22.2" height="8.4" fill="#fff" stroke="#111" stroke-width="0.8"/><rect x="422.10" y="74.50" width="10.9" height="8.4" fill="#111"/><text x="416.60" y="81.00" class="ln" text-anchor="middle">18</text><text x="427.60" y="81.10" class="lb" text-anchor="middle">28</text>
<path d="M416.7 83.5 L416.7 152.5" class="ld"/>
<text x="439.50" y="93.80" class="lh">H</text><rect x="447.60" y="86.30" width="22.2" height="8.4" fill="#fff" stroke="#111" stroke-width="0.8"/><rect x="458.90" y="86.30" width="10.9" height="8.4" fill="#111"/><text x="453.40" y="92.80" class="ln" text-anchor="middle">18</text><text x="464.40" y="92.90" class="lb" text-anchor="middle">28</text>
<path d="M453.7 95.5 L453.7 133.0" class="ld"/>
<text x="489.50" y="113.30" class="lh">H</text><rect x="497.60" y="105.80" width="22.2" height="8.4" fill="#fff" stroke="#111" stroke-width="0.8"/><rect x="508.90" y="105.80" width="10.9" height="8.4" fill="#111"/><text x="514.40" y="112.40" class="lb" text-anchor="middle">19</text>
<path d="M508.7 115.0 L508.7 127.5" class="ld"/>
<text x="582.00" y="142.50" class="lh">H</text><rect x="590.10" y="135.00" width="22.2" height="8.4" fill="#fff" stroke="#111" stroke-width="0.8"/><rect x="601.40" y="135.00" width="10.9" height="8.4" fill="#111"/><text x="595.90" y="141.50" class="ln" text-anchor="middle">18</text><text x="606.90" y="141.60" class="lb" text-anchor="middle">28</text>
<path d="M568.5 139.2 L580.0 139.2" class="ld"/>
<text x="190.20" y="198.50" class="lh">H</text><rect x="198.30" y="191.00" width="22.2" height="8.4" fill="#fff" stroke="#111" stroke-width="0.8"/><rect x="209.60" y="191.00" width="10.9" height="8.4" fill="#111"/><text x="204.10" y="197.50" class="ln" text-anchor="middle">3</text><text x="215.10" y="197.60" class="lb" text-anchor="middle">3</text>
<path d="M223.0 195.2 L240.0 195.2" class="ld"/>
<text x="282.50" y="259.50" class="lh">H</text><rect x="290.60" y="252.00" width="22.2" height="8.4" fill="#fff" stroke="#111" stroke-width="0.8"/><rect x="301.90" y="252.00" width="10.9" height="8.4" fill="#111"/><text x="296.40" y="258.50" class="ln" text-anchor="middle">18</text><text x="307.40" y="258.60" class="lb" text-anchor="middle">28</text>
<path d="M302.0 212.0 L302.0 251.0" class="ld"/>
<text x="374.70" y="246.25" class="nm" text-anchor="middle">2</text>
<path d="M375.0 185.0 L375.0 236.0" class="ld"/>
<text x="380.70" y="233.30" class="lh">H</text><rect x="388.80" y="225.80" width="22.2" height="8.4" fill="#fff" stroke="#111" stroke-width="0.8"/><rect x="400.10" y="225.80" width="10.9" height="8.4" fill="#111"/><text x="394.60" y="232.30" class="ln" text-anchor="middle">18</text><text x="405.60" y="232.40" class="lb" text-anchor="middle">28</text>
<path d="M399.0 160.0 L399.0 225.0" class="ld"/>
<text x="418.00" y="246.25" class="nm" text-anchor="middle">2</text>
<path d="M418.7 185.0 L418.7 236.0" class="ld"/>
<text x="433.20" y="251.25" class="nm" text-anchor="middle">3</text>
<path d="M433.0 160.0 L433.0 241.0" class="ld"/>
<text x="435.70" y="235.30" class="lh">H</text><rect x="443.80" y="227.80" width="22.2" height="8.4" fill="#fff" stroke="#111" stroke-width="0.8"/><rect x="455.10" y="227.80" width="10.9" height="8.4" fill="#111"/><text x="449.60" y="234.30" class="ln" text-anchor="middle">18</text><text x="460.60" y="234.40" class="lb" text-anchor="middle">28</text>
<path d="M448.7 187.5 L457.0 224.6" class="ld"/>
<path d="M463.0 187.5 L457.0 224.6" class="ld"/>
<text x="449.50" y="253.30" class="lh">H</text><rect x="457.60" y="245.80" width="22.2" height="8.4" fill="#fff" stroke="#111" stroke-width="0.8"/><rect x="468.90" y="245.80" width="10.9" height="8.4" fill="#111"/><text x="463.40" y="252.30" class="ln" text-anchor="middle">3</text><text x="474.40" y="252.40" class="lb" text-anchor="middle">3</text>
<path d="M468.0 244.5 L468.0 231.0 L485.0 189.0" class="ld"/>
<text x="488.30" y="258.75" class="nm" text-anchor="middle">10</text>
<path d="M487.5 190.0 L487.5 249.0" class="ld"/>
<text x="495.70" y="257.50" class="lh">H</text><rect x="503.80" y="250.00" width="22.2" height="8.4" fill="#fff" stroke="#111" stroke-width="0.8"/><rect x="515.10" y="250.00" width="10.9" height="8.4" fill="#111"/><text x="509.60" y="256.50" class="ln" text-anchor="middle">12</text><text x="520.60" y="256.60" class="lb" text-anchor="middle">33</text>
<path d="M515.0 259.5 L515.0 268.0" class="ld"/>
<text x="548.20" y="252.00" class="lh">H</text><rect x="556.30" y="244.50" width="22.2" height="8.4" fill="#fff" stroke="#111" stroke-width="0.8"/><rect x="567.60" y="244.50" width="10.9" height="8.4" fill="#111"/><text x="562.10" y="251.00" class="ln" text-anchor="middle">77</text><text x="573.10" y="251.10" class="lb3" text-anchor="middle">137</text>
<path d="M546.0 248.7 L533.7 248.7 L522.5 232.5" class="ld"/>
<text x="193.20" y="337.00" class="lh">H</text><rect x="201.30" y="329.50" width="22.2" height="8.4" fill="#fff" stroke="#111" stroke-width="0.8"/><rect x="212.60" y="329.50" width="10.9" height="8.4" fill="#111"/><text x="218.10" y="336.10" class="lb" text-anchor="middle">19</text>
<path d="M226.0 333.7 L241.0 333.7" class="ld"/>
<text x="516.20" y="423.80" class="lh">H</text><rect x="524.30" y="416.30" width="22.2" height="8.4" fill="#fff" stroke="#111" stroke-width="0.8"/><rect x="535.60" y="416.30" width="10.9" height="8.4" fill="#111"/><text x="530.10" y="422.80" class="ln" text-anchor="middle">12</text><text x="541.10" y="422.90" class="lb" text-anchor="middle">33</text>
<path d="M534.5 407.5 L534.5 415.5" class="ld"/>
<text x="407.70" y="433.25" class="nm" text-anchor="middle">1</text>
<path d="M408.2 435.0 L408.2 505.0" class="ld"/>
<text x="416.50" y="431.70" class="lh">H</text><rect x="424.60" y="424.20" width="22.2" height="8.4" fill="#fff" stroke="#111" stroke-width="0.8"/><rect x="435.90" y="424.20" width="10.9" height="8.4" fill="#111"/><text x="430.40" y="430.70" class="ln" text-anchor="middle">12</text><text x="441.40" y="430.80" class="lb" text-anchor="middle">33</text>
<path d="M430.0 433.5 L430.0 447.5" class="ld"/>
<text x="332.50" y="442.00" class="lh">H</text><rect x="340.60" y="434.50" width="22.2" height="8.4" fill="#fff" stroke="#111" stroke-width="0.8"/><rect x="351.90" y="434.50" width="10.9" height="8.4" fill="#111"/><text x="346.40" y="441.00" class="ln" text-anchor="middle">18</text><text x="357.40" y="441.10" class="lb" text-anchor="middle">28</text>
<path d="M352.0 443.5 L352.0 480.0" class="ld"/>
<text x="486.00" y="449.95" class="nm" text-anchor="middle">4</text>
<path d="M481.0 446.2 L467.0 446.2 L459.0 480.0" class="ld"/>
<text x="504.50" y="470.00" class="lh">H</text><rect x="512.60" y="462.50" width="22.2" height="8.4" fill="#fff" stroke="#111" stroke-width="0.8"/><rect x="523.90" y="462.50" width="10.9" height="8.4" fill="#111"/><text x="518.40" y="469.00" class="ln" text-anchor="middle">12</text><text x="529.40" y="469.10" class="lb" text-anchor="middle">33</text>
<path d="M502.5 466.7 L489.0 466.7 L466.0 482.5" class="ld"/>
<text x="279.00" y="462.00" class="lh">H</text><rect x="287.10" y="454.50" width="22.2" height="8.4" fill="#fff" stroke="#111" stroke-width="0.8"/><rect x="298.40" y="454.50" width="10.9" height="8.4" fill="#111"/><text x="303.90" y="461.10" class="lb" text-anchor="middle">19</text>
<path d="M297.0 463.5 L297.0 480.0" class="ld"/>
<text x="193.20" y="493.30" class="lh">H</text><rect x="201.30" y="485.80" width="22.2" height="8.4" fill="#fff" stroke="#111" stroke-width="0.8"/><rect x="212.60" y="485.80" width="10.9" height="8.4" fill="#111"/><text x="207.10" y="492.30" class="ln" text-anchor="middle">18</text><text x="218.10" y="492.40" class="lb" text-anchor="middle">28</text>
<path d="M225.5 490.0 L236.0 490.0" class="ld"/>
<text x="584.50" y="546.30" class="lh">H</text><rect x="592.60" y="538.80" width="22.2" height="8.4" fill="#fff" stroke="#111" stroke-width="0.8"/><rect x="603.90" y="538.80" width="10.9" height="8.4" fill="#111"/><text x="598.40" y="545.30" class="ln" text-anchor="middle">3</text><text x="609.40" y="545.40" class="lb" text-anchor="middle">3</text>
<path d="M567.0 543.0 L583.0 543.0" class="ld"/>
<text x="221.50" y="596.50" class="lh">H</text><rect x="229.60" y="589.00" width="22.2" height="8.4" fill="#fff" stroke="#111" stroke-width="0.8"/><rect x="240.90" y="589.00" width="10.9" height="8.4" fill="#111"/><text x="235.40" y="595.50" class="ln" text-anchor="middle">18</text><text x="246.40" y="595.60" class="lb" text-anchor="middle">28</text>
<path d="M254.5 593.2 L268.7 593.2 L290.0 561.0" class="ld"/>
<text x="318.30" y="608.25" class="nm" text-anchor="middle">10</text>
<path d="M317.5 527.0 L317.5 598.5" class="ld"/>
<text x="325.70" y="601.50" class="lh">H</text><rect x="333.80" y="594.00" width="22.2" height="8.4" fill="#fff" stroke="#111" stroke-width="0.8"/><rect x="345.10" y="594.00" width="10.9" height="8.4" fill="#111"/><text x="339.60" y="600.50" class="ln" text-anchor="middle">3</text><text x="350.60" y="600.60" class="lb" text-anchor="middle">3</text>
<path d="M337.0 593.0 L337.0 575.0 L327.5 556.0" class="ld"/>
<text x="339.50" y="582.50" class="lh">H</text><rect x="347.60" y="575.00" width="22.2" height="8.4" fill="#fff" stroke="#111" stroke-width="0.8"/><rect x="358.90" y="575.00" width="10.9" height="8.4" fill="#111"/><text x="353.40" y="581.50" class="ln" text-anchor="middle">76</text><text x="364.40" y="581.60" class="lb" text-anchor="middle">61</text>
<path d="M357.5 557.5 L357.5 574.5" class="ld"/>
<text x="371.70" y="600.95" class="nm" text-anchor="middle">3</text>
<path d="M372.5 510.0 L372.5 591.0" class="ld"/>
<text x="386.20" y="594.25" class="nm" text-anchor="middle">2</text>
<path d="M386.5 557.5 L386.5 584.0" class="ld"/>
<text x="392.70" y="581.30" class="lh">H</text><rect x="400.80" y="573.80" width="22.2" height="8.4" fill="#fff" stroke="#111" stroke-width="0.8"/><rect x="412.10" y="573.80" width="10.9" height="8.4" fill="#111"/><text x="406.60" y="580.30" class="ln" text-anchor="middle">18</text><text x="417.60" y="580.40" class="lb" text-anchor="middle">28</text>
<path d="M387.5 506.0 L406.0 573.0" class="ld"/>
<path d="M406.0 506.0 L406.0 573.0" class="ld"/>
<text x="429.20" y="594.25" class="nm" text-anchor="middle">2</text>
<path d="M430.0 555.0 L430.0 584.0" class="ld"/>
<text x="537.70" y="599.50" class="lh">H</text><rect x="545.80" y="592.00" width="22.2" height="8.4" fill="#fff" stroke="#111" stroke-width="0.8"/><rect x="557.10" y="592.00" width="10.9" height="8.4" fill="#111"/><text x="551.60" y="598.50" class="ln" text-anchor="middle">77</text><text x="562.60" y="598.60" class="lb3" text-anchor="middle">137</text>
<path d="M536.0 596.2 L525.0 596.2 L512.5 577.5" class="ld"/>
<text x="260.70" y="609.50" class="lh">H</text><rect x="268.80" y="602.00" width="22.2" height="8.4" fill="#fff" stroke="#111" stroke-width="0.8"/><rect x="280.10" y="602.00" width="10.9" height="8.4" fill="#111"/><text x="274.60" y="608.50" class="ln" text-anchor="middle">12</text><text x="285.60" y="608.60" class="lb" text-anchor="middle">33</text>
<path d="M293.0 606.2 L305.5 606.2 L305.5 640.0" class="ld"/>
<text x="168.20" y="678.80" class="lh">H</text><rect x="176.30" y="671.30" width="22.2" height="8.4" fill="#fff" stroke="#111" stroke-width="0.8"/><rect x="187.60" y="671.30" width="10.9" height="8.4" fill="#111"/><text x="193.10" y="677.90" class="lb" text-anchor="middle">19</text>
<path d="M200.5 675.5 L260.0 675.5" class="ld"/>
<text x="176.50" y="752.80" class="lh">H</text><rect x="184.60" y="745.30" width="22.2" height="8.4" fill="#fff" stroke="#111" stroke-width="0.8"/><rect x="195.90" y="745.30" width="10.9" height="8.4" fill="#111"/><text x="190.40" y="751.80" class="ln" text-anchor="middle">77</text><text x="201.40" y="751.90" class="lb3" text-anchor="middle">137</text>
<path d="M209.5 749.5 L222.5 749.5" class="ld"/>
<text x="256.40" y="765.75" class="nm" text-anchor="middle">5</text>
<path d="M256.5 712.5 L256.5 755.0" class="ld"/>
<text x="319.40" y="765.75" class="nm" text-anchor="middle">5</text>
<path d="M319.5 712.5 L319.5 755.0" class="ld"/>
<text x="374.40" y="713.75" class="nm" text-anchor="middle">8</text>
<path d="M357.0 710.0 L370.0 710.0" class="ld"/>
<text x="435.20" y="612.50" class="lh">H</text><rect x="443.30" y="605.00" width="22.2" height="8.4" fill="#fff" stroke="#111" stroke-width="0.8"/><rect x="454.60" y="605.00" width="10.9" height="8.4" fill="#111"/><text x="460.10" y="611.60" class="lb" text-anchor="middle">19</text>
<path d="M467.5 609.2 L490.0 609.2 L490.0 632.5" class="ld"/>
<text x="407.50" y="730.80" class="lh">H</text><rect x="415.60" y="723.30" width="22.2" height="8.4" fill="#fff" stroke="#111" stroke-width="0.8"/><rect x="426.90" y="723.30" width="10.9" height="8.4" fill="#111"/><text x="421.40" y="729.80" class="ln" text-anchor="middle">12</text><text x="432.40" y="729.90" class="lb" text-anchor="middle">33</text>
<path d="M440.0 727.5 L461.0 727.5" class="ld"/>
<text x="600.20" y="728.50" class="lh">H</text><rect x="608.30" y="721.00" width="22.2" height="8.4" fill="#fff" stroke="#111" stroke-width="0.8"/><rect x="619.60" y="721.00" width="10.9" height="8.4" fill="#111"/><text x="614.10" y="727.50" class="ln" text-anchor="middle">12</text><text x="625.10" y="727.60" class="lb" text-anchor="middle">33</text>
<path d="M577.5 725.2 L598.0 725.2" class="ld"/>
<text x="597.70" y="757.00" class="lh">H</text><rect x="605.80" y="749.50" width="22.2" height="8.4" fill="#fff" stroke="#111" stroke-width="0.8"/><rect x="617.10" y="749.50" width="10.9" height="8.4" fill="#111"/><text x="611.60" y="756.00" class="ln" text-anchor="middle">77</text><text x="622.60" y="756.10" class="lb3" text-anchor="middle">137</text>
<path d="M585.0 753.7 L596.0 753.7" class="ld"/>
<text x="510.30" y="761.75" class="nm" text-anchor="middle">5</text>
<path d="M510.5 705.0 L510.5 751.5" class="ld"/>
<text x="526.50" y="761.75" class="nm" text-anchor="middle">5</text>
<path d="M526.5 705.0 L526.5 751.5" class="ld"/>
<g font-size="8.3" fill="#111">
<text x="370.7" y="779.3">H</text><rect x="377.8" y="773.4" width="5.8" height="5.8" fill="#fff" stroke="#333" stroke-width="0.6"/><path d="M378.8 774.4 L382.6 778.1999999999999 M382.6 774.4 L378.8 778.1999999999999" stroke="#333" stroke-width="0.6" fill="none"/>
<text x="387.5" y="779.3" font-weight="bold" textLength="105" lengthAdjust="spacingAndGlyphs">AQUEOUS HOBBY COLOR</text>
<rect x="503.6" y="773.4" width="5.8" height="5.8" fill="#222" stroke="#333" stroke-width="0.6"/><path d="M504.6 774.4 L508.40000000000003 778.1999999999999 M508.40000000000003 774.4 L504.6 778.1999999999999" stroke="#fff" stroke-width="0.6" fill="none"/>
<text x="514.3" y="779.3" font-weight="bold" textLength="43.5" lengthAdjust="spacingAndGlyphs">Mr. COLOR</text>
<text x="564.8" y="779.3">N</text><rect x="572" y="773.4" width="5.8" height="5.8" fill="#fff" stroke="#333" stroke-width="0.6"/><path d="M573 774.4 L576.8 778.1999999999999 M576.8 774.4 L573 778.1999999999999" stroke="#333" stroke-width="0.6" fill="none"/>
<text x="582.4" y="779.3" font-weight="bold" textLength="72.3" lengthAdjust="spacingAndGlyphs">ACRYSION COLOR</text>
</g>
<text y="794" font-size="11.8" fill="#111" font-weight="bold"><tspan x="145.2" textLength="57.8" lengthAdjust="spacingAndGlyphs">63556 1/35</tspan><tspan x="210.4" textLength="111.6" lengthAdjust="spacingAndGlyphs">M-ATV CargoCarrier</tspan></text>
</svg>
</body>
</html>
